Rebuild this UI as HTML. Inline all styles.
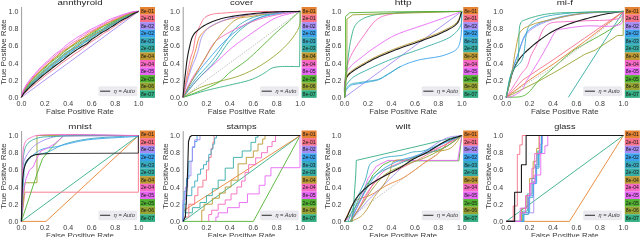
<!DOCTYPE html><html><head><meta charset="utf-8"><style>html,body{margin:0;padding:0;background:#fff;overflow:hidden}svg{display:block;will-change:transform}text{font-family:"Liberation Sans",sans-serif}</style></head><body>
<svg width="640" height="237" viewBox="0 0 640 237">
<rect width="640" height="237" fill="#fff"/>
<text x="80" y="5.2" font-size="8" text-anchor="middle" textLength="45.11" lengthAdjust="spacingAndGlyphs" fill="#262626">annthyroid</text>
<line x1="21.6" y1="7" x2="21.6" y2="97.3" stroke="#9c9c9c" stroke-width="1"/>
<text x="18.3" y="99.9" font-size="6.6" text-anchor="end" textLength="9.8" lengthAdjust="spacingAndGlyphs" fill="#3a3a3a">0.0</text>
<text x="18.3" y="82.72" font-size="6.6" text-anchor="end" textLength="9.8" lengthAdjust="spacingAndGlyphs" fill="#3a3a3a">0.2</text>
<text x="18.3" y="65.54" font-size="6.6" text-anchor="end" textLength="9.8" lengthAdjust="spacingAndGlyphs" fill="#3a3a3a">0.4</text>
<text x="18.3" y="48.36" font-size="6.6" text-anchor="end" textLength="9.8" lengthAdjust="spacingAndGlyphs" fill="#3a3a3a">0.6</text>
<text x="18.3" y="31.18" font-size="6.6" text-anchor="end" textLength="9.8" lengthAdjust="spacingAndGlyphs" fill="#3a3a3a">0.8</text>
<text x="18.3" y="14" font-size="6.6" text-anchor="end" textLength="9.8" lengthAdjust="spacingAndGlyphs" fill="#3a3a3a">1.0</text>
<text x="21.4" y="105.7" font-size="6.6" text-anchor="middle" textLength="9.8" lengthAdjust="spacingAndGlyphs" fill="#3a3a3a">0.0</text>
<text x="44.84" y="105.7" font-size="6.6" text-anchor="middle" textLength="9.8" lengthAdjust="spacingAndGlyphs" fill="#3a3a3a">0.2</text>
<text x="68.28" y="105.7" font-size="6.6" text-anchor="middle" textLength="9.8" lengthAdjust="spacingAndGlyphs" fill="#3a3a3a">0.4</text>
<text x="91.72" y="105.7" font-size="6.6" text-anchor="middle" textLength="9.8" lengthAdjust="spacingAndGlyphs" fill="#3a3a3a">0.6</text>
<text x="115.16" y="105.7" font-size="6.6" text-anchor="middle" textLength="9.8" lengthAdjust="spacingAndGlyphs" fill="#3a3a3a">0.8</text>
<text x="138.6" y="105.7" font-size="6.6" text-anchor="middle" textLength="9.8" lengthAdjust="spacingAndGlyphs" fill="#3a3a3a">1.0</text>
<text x="80" y="113.9" font-size="7.4" text-anchor="middle" textLength="67.8" lengthAdjust="spacingAndGlyphs" fill="#3a3a3a">False Positive Rate</text>
<text transform="translate(6.4,52) rotate(-90)" font-size="7.4" text-anchor="middle" textLength="65.6" lengthAdjust="spacingAndGlyphs" fill="#3a3a3a">True Positive Rate</text>
<g fill="none" stroke-linejoin="round" stroke-linecap="butt">
<path d="M21.4,97.3 L138.6,11.4" stroke="#a48cf4" stroke-width="0.9"/>
<path d="M21.4,97.3 L23.74,94.17 L26.09,91.89 L28.43,89.75 L30.78,87.73 L33.12,85.88 L35.46,83.95 L37.81,81.89 L40.15,80.07 L42.5,78.19 L44.84,76.14 L47.18,74.28 L49.53,72.5 L51.87,70.75 L54.22,69.12 L56.56,67.45 L58.9,65.47 L61.25,63.51 L63.59,61.85 L65.94,60.11 L68.28,58.59 L70.62,57.1 L72.97,55.17 L75.31,53.46 L77.66,52.17 L80,50.49 L82.34,48.44 L84.69,46.67 L87.03,44.93 L89.38,43.14 L91.72,41.5 L94.06,39.99 L96.41,38.53 L98.75,36.95 L101.1,35.29 L103.44,33.53 L105.78,32.08 L108.13,30.96 L110.47,29.54 L112.82,27.72 L115.16,25.92 L117.5,24.42 L119.85,22.98 L122.19,21.5 L124.54,19.99 L126.88,18.5 L129.22,17 L131.57,15.5 L133.91,14.04 L136.26,12.65 L138.6,11.4" stroke="#f77189" stroke-width="0.9"/>
<path d="M21.4,97.3 L23.74,92.76 L26.09,89.95 L28.43,87.47 L30.78,85.14 L33.12,82.79 L35.46,80.45 L37.81,78.28 L40.15,76.34 L42.5,74.49 L44.84,72.57 L47.18,70.72 L49.53,68.98 L51.87,67.16 L54.22,65.09 L56.56,62.83 L58.9,60.86 L61.25,59.12 L63.59,57.58 L65.94,56.24 L68.28,54.55 L70.62,52.54 L72.97,50.61 L75.31,48.81 L77.66,47.4 L80,46.18 L82.34,44.44 L84.69,42.66 L87.03,41.31 L89.38,39.95 L91.72,38.44 L94.06,36.76 L96.41,34.81 L98.75,33.19 L101.1,32.02 L103.44,30.62 L105.78,28.98 L108.13,27.48 L110.47,26.01 L112.82,24.65 L115.16,23.47 L117.5,22.18 L119.85,20.81 L122.19,19.55 L124.54,18.32 L126.88,16.96 L129.22,15.67 L131.57,14.54 L133.91,13.37 L136.26,12.24 L138.6,11.4" stroke="#34af84" stroke-width="0.9"/>
<path d="M21.4,97.3 L23.74,92.43 L26.09,89.45 L28.43,86.8 L30.78,84.35 L33.12,82.1 L35.46,80.04 L37.81,77.83 L40.15,75.54 L42.5,73.46 L44.84,71.58 L47.18,69.85 L49.53,68.02 L51.87,66.09 L54.22,64.12 L56.56,62.36 L58.9,60.85 L61.25,59.12 L63.59,57.04 L65.94,54.88 L68.28,53.26 L70.62,51.84 L72.97,50.16 L75.31,48.58 L77.66,47.02 L80,45.65 L82.34,44 L84.69,42.05 L87.03,40.65 L89.38,39.06 L91.72,37 L94.06,35.51 L96.41,34.23 L98.75,32.64 L101.1,31.2 L103.44,29.95 L105.78,28.55 L108.13,26.93 L110.47,25.41 L112.82,24.01 L115.16,22.79 L117.5,21.73 L119.85,20.54 L122.19,19.29 L124.54,18.05 L126.88,16.78 L129.22,15.48 L131.57,14.29 L133.91,13.19 L136.26,12.15 L138.6,11.4" stroke="#3ba3ec" stroke-width="0.9"/>
<path d="M21.4,97.3 L23.74,92.14 L26.09,89.11 L28.43,86.5 L30.78,84.04 L33.12,81.6 L35.46,79.26 L37.81,77.07 L40.15,74.97 L42.5,72.92 L44.84,70.91 L47.18,68.82 L49.53,66.85 L51.87,65.1 L54.22,63.21 L56.56,61.39 L58.9,59.74 L61.25,57.79 L63.59,55.92 L65.94,54.29 L68.28,52.42 L70.62,50.55 L72.97,49 L75.31,47.77 L77.66,46.25 L80,44.19 L82.34,42.46 L84.69,41.3 L87.03,40.12 L89.38,38.47 L91.72,36.72 L94.06,35.07 L96.41,33.38 L98.75,32.08 L101.1,30.87 L103.44,29.37 L105.78,27.84 L108.13,26.23 L110.47,24.85 L112.82,23.7 L115.16,22.41 L117.5,21.05 L119.85,19.71 L122.19,18.58 L124.54,17.57 L126.88,16.38 L129.22,15.16 L131.57,14.06 L133.91,13.03 L136.26,12.06 L138.6,11.4" stroke="#38aabf" stroke-width="0.9"/>
<path d="M21.4,97.3 L23.74,91.9 L26.09,88.74 L28.43,86 L30.78,83.44 L33.12,81.06 L35.46,78.82 L37.81,76.6 L40.15,74.49 L42.5,72.43 L44.84,70.48 L47.18,68.51 L49.53,66.29 L51.87,64.25 L54.22,62.64 L56.56,60.83 L58.9,58.63 L61.25,56.6 L63.59,55.04 L65.94,53.35 L68.28,51.62 L70.62,50.1 L72.97,48.39 L75.31,46.93 L77.66,45.65 L80,44.06 L82.34,42.15 L84.69,40.37 L87.03,38.97 L89.38,37.37 L91.72,35.78 L94.06,34.41 L96.41,33.09 L98.75,31.92 L101.1,30.6 L103.44,28.94 L105.78,27.31 L108.13,25.99 L110.47,24.71 L112.82,23.32 L115.16,22.07 L117.5,20.79 L119.85,19.41 L122.19,18.24 L124.54,17.17 L126.88,16 L129.22,14.84 L131.57,13.77 L133.91,12.82 L136.26,11.96 L138.6,11.4" stroke="#bb9832" stroke-width="0.9"/>
<path d="M21.4,97.3 L23.74,91.59 L26.09,88.33 L28.43,85.5 L30.78,82.94 L33.12,80.44 L35.46,77.97 L37.81,75.77 L40.15,73.6 L42.5,71.47 L44.84,69.44 L47.18,67.48 L49.53,65.5 L51.87,63.51 L54.22,61.82 L56.56,60.18 L58.9,58.39 L61.25,56.47 L63.59,54.36 L65.94,52.4 L68.28,50.99 L70.62,49.65 L72.97,47.7 L75.31,45.81 L77.66,44.41 L80,42.84 L82.34,41.14 L84.69,39.59 L87.03,38.07 L89.38,36.5 L91.72,34.98 L94.06,33.39 L96.41,31.85 L98.75,30.72 L101.1,29.75 L103.44,28.27 L105.78,26.54 L108.13,25.32 L110.47,24.09 L112.82,22.6 L115.16,21.32 L117.5,20.1 L119.85,18.94 L122.19,17.95 L124.54,16.8 L126.88,15.66 L129.22,14.64 L131.57,13.65 L133.91,12.72 L136.26,11.87 L138.6,11.4" stroke="#36ada4" stroke-width="0.9"/>
<path d="M21.4,97.3 L23.74,91.04 L26.09,87.55 L28.43,84.53 L30.78,81.83 L33.12,79.21 L35.46,76.7 L37.81,74.49 L40.15,72.21 L42.5,70.03 L44.84,68.09 L47.18,65.94 L49.53,63.75 L51.87,61.76 L54.22,59.92 L56.56,58.28 L58.9,56.62 L61.25,54.76 L63.59,52.62 L65.94,50.56 L68.28,48.86 L70.62,47.31 L72.97,45.74 L75.31,44.24 L77.66,42.92 L80,41.31 L82.34,39.37 L84.69,37.78 L87.03,36.63 L89.38,35.45 L91.72,34.01 L94.06,32.53 L96.41,30.91 L98.75,29.36 L101.1,28.01 L103.44,26.45 L105.78,25.21 L108.13,24.33 L110.47,23.09 L112.82,21.84 L115.16,20.74 L117.5,19.39 L119.85,18.16 L122.19,17.18 L124.54,16.16 L126.88,15.14 L129.22,14.09 L131.57,13.17 L133.91,12.43 L136.26,11.74 L138.6,11.4" stroke="#50b131" stroke-width="0.9"/>
<path d="M21.4,97.3 L23.74,90.74 L26.09,87.14 L28.43,84.05 L30.78,81.17 L33.12,78.47 L35.46,76.08 L37.81,73.83 L40.15,71.55 L42.5,69.37 L44.84,67.16 L47.18,64.75 L49.53,62.75 L51.87,61.05 L54.22,58.99 L56.56,57.07 L58.9,55.48 L61.25,53.68 L63.59,51.75 L65.94,49.94 L68.28,48.15 L70.62,46.6 L72.97,45.12 L75.31,43.13 L77.66,41.14 L80,39.64 L82.34,38.6 L84.69,37.68 L87.03,36.39 L89.38,34.54 L91.72,32.7 L94.06,31.45 L96.41,30.06 L98.75,28.53 L101.1,27.34 L103.44,26.11 L105.78,24.95 L108.13,23.79 L110.47,22.32 L112.82,21.05 L115.16,20.14 L117.5,19.08 L119.85,17.96 L122.19,16.9 L124.54,15.75 L126.88,14.67 L129.22,13.79 L131.57,12.96 L133.91,12.22 L136.26,11.62 L138.6,11.4" stroke="#97a431" stroke-width="0.9"/>
<path d="M21.4,97.3 L23.74,90.45 L26.09,86.7 L28.43,83.54 L30.78,80.68 L33.12,78.03 L35.46,75.55 L37.81,73.09 L40.15,70.64 L42.5,68.45 L44.84,66.51 L47.18,64.54 L49.53,62.39 L51.87,60.1 L54.22,58.2 L56.56,56.45 L58.9,54.2 L61.25,52.17 L63.59,50.61 L65.94,49.16 L68.28,47.85 L70.62,46.27 L72.97,44.48 L75.31,42.98 L77.66,41.46 L80,39.9 L82.34,38.35 L84.69,36.61 L87.03,34.84 L89.38,33.23 L91.72,31.87 L94.06,30.57 L96.41,29.21 L98.75,27.89 L101.1,26.73 L103.44,25.41 L105.78,23.79 L108.13,22.44 L110.47,21.4 L112.82,20.47 L115.16,19.59 L117.5,18.6 L119.85,17.56 L122.19,16.48 L124.54,15.37 L126.88,14.41 L129.22,13.54 L131.57,12.75 L133.91,12.03 L136.26,11.51 L138.6,11.4" stroke="#e68332" stroke-width="0.9"/>
<path d="M21.4,97.3 L23.74,89.88 L26.09,85.94 L28.43,82.69 L30.78,79.75 L33.12,76.94 L35.46,74.24 L37.81,71.61 L40.15,69.18 L42.5,66.94 L44.84,64.73 L47.18,62.67 L49.53,60.76 L51.87,58.8 L54.22,56.7 L56.56,54.68 L58.9,52.87 L61.25,51.07 L63.59,49.32 L65.94,47.53 L68.28,45.83 L70.62,44.08 L72.97,42.4 L75.31,41.25 L77.66,39.64 L80,37.58 L82.34,36.23 L84.69,34.89 L87.03,32.94 L89.38,31.54 L91.72,30.69 L94.06,29.52 L96.41,28.22 L98.75,26.8 L101.1,25.42 L103.44,24.22 L105.78,23.03 L108.13,22.05 L110.47,20.84 L112.82,19.49 L115.16,18.48 L117.5,17.5 L119.85,16.47 L122.19,15.57 L124.54,14.77 L126.88,13.94 L129.22,13.03 L131.57,12.26 L133.91,11.71 L136.26,11.4 L138.6,11.4" stroke="#f668c2" stroke-width="0.9"/>
<path d="M21.4,97.3 L23.74,89.31 L26.09,85.11 L28.43,81.62 L30.78,78.58 L33.12,75.78 L35.46,73.1 L37.81,70.46 L40.15,67.93 L42.5,65.65 L44.84,63.42 L47.18,61.29 L49.53,59.19 L51.87,56.94 L54.22,54.73 L56.56,52.98 L58.9,51.47 L61.25,49.71 L63.59,47.68 L65.94,45.48 L68.28,43.55 L70.62,41.9 L72.97,40.28 L75.31,38.66 L77.66,37.04 L80,35.77 L82.34,34.53 L84.69,32.98 L87.03,31.52 L89.38,30.15 L91.72,28.9 L94.06,27.78 L96.41,26.57 L98.75,25.34 L101.1,24.25 L103.44,23 L105.78,21.5 L108.13,20.16 L110.47,19.11 L112.82,18.24 L115.16,17.35 L117.5,16.49 L119.85,15.68 L122.19,14.78 L124.54,14 L126.88,13.34 L129.22,12.64 L131.57,12 L133.91,11.5 L136.26,11.41 L138.6,11.4" stroke="#e866f4" stroke-width="0.9"/>
<path d="M21.4,97.3 L23.74,93.33 L26.09,90.76 L28.43,88.38 L30.78,86.1 L33.12,84 L35.46,81.92 L37.81,79.79 L40.15,77.72 L42.5,75.71 L44.84,73.91 L47.18,72.13 L49.53,70.29 L51.87,68.43 L54.22,66.46 L56.56,64.78 L58.9,63.07 L61.25,61.29 L63.59,59.64 L65.94,57.65 L68.28,55.78 L70.62,54.17 L72.97,52.36 L75.31,50.68 L77.66,49.12 L80,47.66 L82.34,46.27 L84.69,44.9 L87.03,43.48 L89.38,41.5 L91.72,39.38 L94.06,37.89 L96.41,36.4 L98.75,34.67 L101.1,33.07 L103.44,31.63 L105.78,30.47 L108.13,29.03 L110.47,27.4 L112.82,25.99 L115.16,24.46 L117.5,22.88 L119.85,21.37 L122.19,20 L124.54,18.85 L126.88,17.69 L129.22,16.35 L131.57,14.9 L133.91,13.6 L136.26,12.43 L138.6,11.4" stroke="#1a1a1a" stroke-width="1.1"/>
</g>
<rect x="140" y="7" width="15" height="7.62" fill="#e68332"/>
<text x="147.5" y="12.58" font-size="5.2" text-anchor="middle" textLength="13" lengthAdjust="spacingAndGlyphs" fill="#1a1a1a">8e-01</text>
<rect x="140" y="14.57" width="15" height="7.62" fill="#f77189"/>
<text x="147.5" y="20.15" font-size="5.2" text-anchor="middle" textLength="13" lengthAdjust="spacingAndGlyphs" fill="#1a1a1a">2e-01</text>
<rect x="140" y="22.13" width="15" height="7.62" fill="#a48cf4"/>
<text x="147.5" y="27.72" font-size="5.2" text-anchor="middle" textLength="13" lengthAdjust="spacingAndGlyphs" fill="#1a1a1a">8e-02</text>
<rect x="140" y="29.7" width="15" height="7.62" fill="#3ba3ec"/>
<text x="147.5" y="35.28" font-size="5.2" text-anchor="middle" textLength="13" lengthAdjust="spacingAndGlyphs" fill="#1a1a1a">2e-02</text>
<rect x="140" y="37.27" width="15" height="7.62" fill="#38aabf"/>
<text x="147.5" y="42.85" font-size="5.2" text-anchor="middle" textLength="13" lengthAdjust="spacingAndGlyphs" fill="#1a1a1a">8e-03</text>
<rect x="140" y="44.83" width="15" height="7.62" fill="#36ada4"/>
<text x="147.5" y="50.42" font-size="5.2" text-anchor="middle" textLength="13" lengthAdjust="spacingAndGlyphs" fill="#1a1a1a">2e-03</text>
<rect x="140" y="52.4" width="15" height="7.62" fill="#bb9832"/>
<text x="147.5" y="57.98" font-size="5.2" text-anchor="middle" textLength="13" lengthAdjust="spacingAndGlyphs" fill="#1a1a1a">8e-04</text>
<rect x="140" y="59.97" width="15" height="7.62" fill="#f668c2"/>
<text x="147.5" y="65.55" font-size="5.2" text-anchor="middle" textLength="13" lengthAdjust="spacingAndGlyphs" fill="#1a1a1a">2e-04</text>
<rect x="140" y="67.53" width="15" height="7.62" fill="#e866f4"/>
<text x="147.5" y="73.12" font-size="5.2" text-anchor="middle" textLength="13" lengthAdjust="spacingAndGlyphs" fill="#1a1a1a">8e-05</text>
<rect x="140" y="75.1" width="15" height="7.62" fill="#50b131"/>
<text x="147.5" y="80.68" font-size="5.2" text-anchor="middle" textLength="13" lengthAdjust="spacingAndGlyphs" fill="#1a1a1a">2e-05</text>
<rect x="140" y="82.67" width="15" height="7.62" fill="#97a431"/>
<text x="147.5" y="88.25" font-size="5.2" text-anchor="middle" textLength="13" lengthAdjust="spacingAndGlyphs" fill="#1a1a1a">8e-06</text>
<rect x="140" y="90.23" width="15" height="7.62" fill="#34af84"/>
<text x="147.5" y="95.82" font-size="5.2" text-anchor="middle" textLength="13" lengthAdjust="spacingAndGlyphs" fill="#1a1a1a">8e-07</text>
<rect x="98.9" y="86.8" width="37.8" height="8.9" rx="0.6" fill="#ebebf0" stroke="#e0e0e6" stroke-width="0.5"/>
<line x1="100.1" y1="91.2" x2="110.2" y2="91.2" stroke="#3a3a3a" stroke-width="1.1"/>
<text x="113.8" y="93.2" font-size="5.6" font-style="italic" textLength="21" lengthAdjust="spacingAndGlyphs" fill="#333">η = Auto</text>
<text x="241.6" y="5.2" font-size="8" text-anchor="middle" textLength="23.07" lengthAdjust="spacingAndGlyphs" fill="#262626">cover</text>
<line x1="183.2" y1="7" x2="183.2" y2="97.3" stroke="#9c9c9c" stroke-width="1"/>
<text x="179.9" y="99.9" font-size="6.6" text-anchor="end" textLength="9.8" lengthAdjust="spacingAndGlyphs" fill="#3a3a3a">0.0</text>
<text x="179.9" y="82.72" font-size="6.6" text-anchor="end" textLength="9.8" lengthAdjust="spacingAndGlyphs" fill="#3a3a3a">0.2</text>
<text x="179.9" y="65.54" font-size="6.6" text-anchor="end" textLength="9.8" lengthAdjust="spacingAndGlyphs" fill="#3a3a3a">0.4</text>
<text x="179.9" y="48.36" font-size="6.6" text-anchor="end" textLength="9.8" lengthAdjust="spacingAndGlyphs" fill="#3a3a3a">0.6</text>
<text x="179.9" y="31.18" font-size="6.6" text-anchor="end" textLength="9.8" lengthAdjust="spacingAndGlyphs" fill="#3a3a3a">0.8</text>
<text x="179.9" y="14" font-size="6.6" text-anchor="end" textLength="9.8" lengthAdjust="spacingAndGlyphs" fill="#3a3a3a">1.0</text>
<text x="183" y="105.7" font-size="6.6" text-anchor="middle" textLength="9.8" lengthAdjust="spacingAndGlyphs" fill="#3a3a3a">0.0</text>
<text x="206.44" y="105.7" font-size="6.6" text-anchor="middle" textLength="9.8" lengthAdjust="spacingAndGlyphs" fill="#3a3a3a">0.2</text>
<text x="229.88" y="105.7" font-size="6.6" text-anchor="middle" textLength="9.8" lengthAdjust="spacingAndGlyphs" fill="#3a3a3a">0.4</text>
<text x="253.32" y="105.7" font-size="6.6" text-anchor="middle" textLength="9.8" lengthAdjust="spacingAndGlyphs" fill="#3a3a3a">0.6</text>
<text x="276.76" y="105.7" font-size="6.6" text-anchor="middle" textLength="9.8" lengthAdjust="spacingAndGlyphs" fill="#3a3a3a">0.8</text>
<text x="300.2" y="105.7" font-size="6.6" text-anchor="middle" textLength="9.8" lengthAdjust="spacingAndGlyphs" fill="#3a3a3a">1.0</text>
<text x="241.6" y="113.9" font-size="7.4" text-anchor="middle" textLength="67.8" lengthAdjust="spacingAndGlyphs" fill="#3a3a3a">False Positive Rate</text>
<text transform="translate(168,52) rotate(-90)" font-size="7.4" text-anchor="middle" textLength="65.6" lengthAdjust="spacingAndGlyphs" fill="#3a3a3a">True Positive Rate</text>
<g fill="none" stroke-linejoin="round" stroke-linecap="butt">
<path d="M183,97.3 L300.2,11.4" stroke="#b0b0b0" stroke-width="0.8" stroke-dasharray="1.5,1.2"/>
<path d="M183,97.3 L184.47,96.87 L185.93,96.44 L187.39,96.01 L188.86,95.58 L190.32,95.15 L191.79,94.72 L193.26,94.29 L194.72,93.86 L196.18,93.43 L197.63,92.99 L199.09,92.55 L200.54,92.11 L202,91.68 L203.46,91.25 L204.94,90.83 L206.44,90.43 L208.03,90.02 L209.64,89.63 L211.28,89.24 L212.92,88.87 L214.56,88.5 L216.18,88.13 L217.78,87.78 L219.33,87.42 L220.68,87.11 L221.96,86.83 L223.21,86.55 L224.45,86.27 L225.71,85.99 L227.02,85.69 L228.4,85.37 L229.88,85.02 L232.22,84.47 L234.8,83.89 L237.56,83.28 L240.4,82.63 L243.24,81.94 L246,81.23 L248.61,80.47 L250.98,79.69 L252.64,79.06 L254.23,78.41 L255.74,77.73 L257.19,77.04 L258.6,76.33 L259.98,75.6 L261.34,74.86 L262.7,74.11 L263.94,73.36 L265.14,72.55 L266.31,71.71 L267.47,70.86 L268.61,70.04 L269.75,69.29 L270.9,68.63 L272.07,68.09 L273.07,67.74 L274.03,67.46 L274.99,67.24 L275.95,67.07 L276.93,66.94 L277.97,66.84 L279.08,66.74 L280.28,66.63 L282.3,66.51 L284.53,66.44 L286.92,66.44 L289.43,66.47 L292,66.52 L294.59,66.57 L297.14,66.62 L299.61,66.63" stroke="#34af84" stroke-width="0.9"/>
<path d="M299.61,66.63 L300.2,11.4" stroke="#34af84" stroke-width="0.9"/>
<path d="M183,97.3 L185.04,96.09 L187.06,94.86 L189.07,93.6 L191.08,92.36 L193.11,91.14 L195.17,89.97 L197.26,88.86 L199.41,87.85 L201.65,86.92 L203.92,86.08 L206.24,85.31 L208.58,84.6 L210.95,83.91 L213.34,83.23 L215.74,82.55 L218.16,81.84 L220.74,81.09 L223.37,80.39 L226.03,79.71 L228.7,79.02 L231.38,78.31 L234.04,77.56 L236.67,76.74 L239.26,75.82 L241.81,74.84 L244.32,73.82 L246.82,72.75 L249.3,71.62 L251.76,70.43 L254.23,69.16 L256.7,67.81 L259.18,66.38 L262.02,64.63 L264.93,62.75 L267.86,60.75 L270.79,58.67 L273.65,56.53 L276.41,54.36 L279.02,52.19 L281.45,50.05 L283.36,48.26 L285.2,46.43 L286.97,44.58 L288.65,42.72 L290.24,40.86 L291.72,39.02 L293.09,37.22 L294.34,35.45 L295.22,34.14 L296.05,32.87 L296.81,31.62 L297.51,30.38 L298.15,29.13 L298.71,27.86 L299.2,26.53 L299.61,25.14 L299.94,23.55 L300.14,21.89 L300.23,20.18 L300.24,18.44 L300.22,16.67 L300.18,14.9 L300.16,13.14 L300.2,11.4" stroke="#97a431" stroke-width="0.9"/>
<path d="M183,97.3 L184.44,96.78 L185.84,96.29 L187.22,95.81 L188.61,95.32 L190.03,94.81 L191.51,94.27 L193.06,93.67 L194.72,93.01 L197.46,91.9 L200.53,90.67 L203.82,89.34 L207.21,87.92 L210.57,86.44 L213.79,84.92 L216.75,83.38 L219.33,81.84 L220.92,80.71 L222.33,79.57 L223.61,78.39 L224.81,77.21 L225.98,76.01 L227.18,74.8 L228.46,73.6 L229.88,72.39 L231.76,70.94 L233.77,69.49 L235.88,68.02 L238.03,66.55 L240.2,65.07 L242.32,63.59 L244.37,62.1 L246.29,60.62 L247.86,59.33 L249.34,58.06 L250.76,56.8 L252.15,55.54 L253.54,54.25 L254.96,52.91 L256.44,51.52 L258.01,50.06 L260.18,48 L262.5,45.77 L264.91,43.42 L267.38,41.02 L269.84,38.61 L272.26,36.27 L274.58,34.05 L276.76,32.02 L278.36,30.57 L279.91,29.18 L281.43,27.86 L282.91,26.58 L284.36,25.34 L285.76,24.12 L287.14,22.91 L288.48,21.71 L289.6,20.67 L290.72,19.61 L291.81,18.55 L292.88,17.51 L293.91,16.51 L294.89,15.58 L295.82,14.73 L296.68,13.98 L297.18,13.57 L297.65,13.21 L298.09,12.89 L298.52,12.58 L298.93,12.29 L299.35,12 L299.77,11.71 L300.2,11.4" stroke="#50b131" stroke-width="0.9"/>
<path d="M183,97.3 L184.73,95.15 L186.42,93.01 L188.09,90.86 L189.77,88.72 L191.49,86.57 L193.26,84.42 L195.11,82.27 L197.06,80.12 L199.47,77.63 L202.06,75.09 L204.76,72.53 L207.54,69.98 L210.32,67.46 L213.05,65 L215.69,62.63 L218.16,60.36 L220.04,58.61 L221.84,56.9 L223.58,55.25 L225.29,53.64 L226.98,52.06 L228.68,50.52 L230.43,48.99 L232.22,47.48 L234.04,46.02 L235.83,44.62 L237.63,43.26 L239.46,41.93 L241.34,40.58 L243.28,39.22 L245.31,37.8 L247.46,36.31 L250.56,34.14 L253.95,31.74 L257.54,29.21 L261.23,26.66 L264.92,24.19 L268.51,21.89 L271.9,19.89 L275,18.27 L276.87,17.44 L278.64,16.74 L280.36,16.16 L282.02,15.65 L283.64,15.21 L285.25,14.8 L286.86,14.4 L288.48,13.98 L289.98,13.59 L291.46,13.24 L292.92,12.91 L294.38,12.61 L295.83,12.31 L297.29,12.01 L298.74,11.71 L300.2,11.4" stroke="#e866f4" stroke-width="0.9"/>
<path d="M183,97.3 L184.74,95.16 L186.45,93.02 L188.15,90.88 L189.86,88.75 L191.59,86.61 L193.36,84.46 L195.18,82.3 L197.06,80.12 L199.28,77.7 L201.61,75.26 L204.03,72.82 L206.48,70.37 L208.93,67.89 L211.33,65.41 L213.64,62.9 L215.82,60.36 L217.72,57.92 L219.49,55.42 L221.19,52.89 L222.84,50.34 L224.5,47.82 L226.19,45.33 L227.97,42.92 L229.88,40.61 L231.89,38.36 L233.98,36.12 L236.12,33.93 L238.32,31.79 L240.56,29.74 L242.84,27.78 L245.14,25.96 L247.46,24.28 L249.57,22.9 L251.72,21.61 L253.9,20.41 L256.1,19.31 L258.32,18.29 L260.55,17.35 L262.79,16.48 L265.04,15.69 L267.2,15.02 L269.38,14.45 L271.57,13.95 L273.77,13.52 L275.98,13.15 L278.2,12.83 L280.41,12.53 L282.62,12.26 L284.81,12.03 L287,11.87 L289.2,11.75 L291.4,11.67 L293.6,11.61 L295.8,11.56 L298,11.49 L300.2,11.4" stroke="#36ada4" stroke-width="0.9"/>
<path d="M183,97.3 L184.44,95.15 L185.84,93.01 L187.24,90.87 L188.63,88.73 L190.06,86.59 L191.53,84.44 L193.08,82.28 L194.72,80.12 L196.71,77.68 L198.84,75.25 L201.08,72.82 L203.37,70.38 L205.67,67.92 L207.96,65.44 L210.18,62.92 L212.3,60.36 L214.34,57.72 L216.35,54.97 L218.33,52.16 L220.27,49.33 L222.17,46.55 L224.01,43.85 L225.81,41.28 L227.54,38.89 L228.77,37.18 L229.9,35.54 L230.97,33.96 L232.03,32.43 L233.11,30.96 L234.26,29.55 L235.51,28.18 L236.91,26.86 L238.63,25.45 L240.47,24.08 L242.42,22.78 L244.46,21.55 L246.58,20.39 L248.77,19.31 L251.02,18.31 L253.32,17.41 L255.99,16.54 L258.8,15.81 L261.71,15.2 L264.7,14.69 L267.72,14.25 L270.76,13.85 L273.79,13.49 L276.76,13.12 L279.68,12.78 L282.61,12.51 L285.54,12.29 L288.47,12.1 L291.4,11.93 L294.34,11.77 L297.27,11.6 L300.2,11.4" stroke="#38aabf" stroke-width="0.9"/>
<path d="M183,97.3 L184.15,95.15 L185.25,93.01 L186.35,90.87 L187.45,88.73 L188.58,86.58 L189.76,84.44 L191.02,82.28 L192.38,80.12 L194.02,77.68 L195.75,75.23 L197.56,72.79 L199.44,70.34 L201.4,67.87 L203.41,65.39 L205.49,62.89 L207.61,60.36 L210.13,57.38 L212.75,54.3 L215.46,51.15 L218.24,48.01 L221.09,44.9 L223.99,41.88 L226.92,39 L229.88,36.31 L232.67,33.92 L235.51,31.58 L238.39,29.31 L241.31,27.14 L244.26,25.1 L247.25,23.21 L250.27,21.5 L253.32,19.99 L256.16,18.8 L259.05,17.8 L261.97,16.95 L264.91,16.23 L267.87,15.6 L270.84,15.04 L273.8,14.51 L276.76,13.98 L279.68,13.5 L282.6,13.1 L285.53,12.77 L288.46,12.48 L291.4,12.22 L294.33,11.97 L297.27,11.7 L300.2,11.4" stroke="#3ba3ec" stroke-width="0.9"/>
<path d="M183,97.3 L184,95.16 L184.98,93.02 L185.94,90.88 L186.9,88.74 L187.89,86.6 L188.93,84.45 L190.03,82.29 L191.2,80.12 L192.64,77.68 L194.19,75.21 L195.82,72.73 L197.51,70.25 L199.21,67.76 L200.9,65.28 L202.54,62.81 L204.1,60.36 L205.45,58.03 L206.7,55.64 L207.91,53.24 L209.1,50.86 L210.33,48.53 L211.63,46.31 L213.06,44.23 L214.64,42.32 L216.27,40.72 L217.97,39.28 L219.76,37.95 L221.63,36.72 L223.58,35.54 L225.6,34.38 L227.7,33.22 L229.88,32.02 L232.75,30.47 L235.83,28.89 L239.07,27.33 L242.41,25.79 L245.8,24.3 L249.17,22.9 L252.48,21.59 L255.66,20.42 L258.36,19.5 L261.01,18.67 L263.62,17.91 L266.22,17.22 L268.81,16.58 L271.42,15.97 L274.07,15.4 L276.76,14.84 L279.62,14.29 L282.52,13.81 L285.44,13.37 L288.39,12.97 L291.34,12.58 L294.31,12.2 L297.26,11.81 L300.2,11.4" stroke="#f668c2" stroke-width="0.9"/>
<path d="M183,97.3 L184.15,95.18 L185.27,93.11 L186.37,91.06 L187.48,89 L188.62,86.9 L189.8,84.74 L191.05,82.49 L192.38,80.12 L194.31,76.7 L196.4,72.98 L198.61,69.08 L200.9,65.08 L203.22,61.08 L205.54,57.18 L207.79,53.47 L209.96,50.05 L211.6,47.52 L213.19,45.07 L214.76,42.71 L216.32,40.44 L217.89,38.23 L219.48,36.1 L221.13,34.03 L222.85,32.02 L224.49,30.16 L226.17,28.29 L227.87,26.45 L229.61,24.68 L231.38,23.02 L233.18,21.52 L235.03,20.21 L236.91,19.13 L238.57,18.43 L240.25,17.93 L241.95,17.59 L243.68,17.36 L245.44,17.19 L247.25,17.03 L249.09,16.84 L250.98,16.55 L253.27,16.13 L255.62,15.68 L258.02,15.21 L260.47,14.75 L262.98,14.29 L265.56,13.86 L268.2,13.46 L270.9,13.12 L274.29,12.78 L277.82,12.5 L281.46,12.28 L285.19,12.09 L288.96,11.93 L292.74,11.77 L296.5,11.6 L300.2,11.4" stroke="#bb9832" stroke-width="0.9"/>
<path d="M183,97.3 L183.36,95.7 L183.71,94.1 L184.07,92.52 L184.42,90.93 L184.78,89.33 L185.14,87.71 L185.53,86.08 L185.93,84.41 L186.4,82.53 L186.9,80.58 L187.42,78.6 L187.95,76.6 L188.48,74.61 L189.01,72.66 L189.53,70.76 L190.03,68.95 L190.44,67.48 L190.85,66.05 L191.25,64.64 L191.65,63.27 L192.04,61.92 L192.43,60.6 L192.82,59.31 L193.2,58.04 L193.51,57 L193.82,56 L194.12,55.04 L194.41,54.09 L194.71,53.14 L195.02,52.16 L195.33,51.14 L195.66,50.05 L196.07,48.56 L196.46,46.93 L196.85,45.23 L197.26,43.5 L197.7,41.77 L198.19,40.12 L198.76,38.56 L199.41,37.17 L200.01,36.14 L200.65,35.17 L201.33,34.27 L202.05,33.41 L202.81,32.59 L203.6,31.81 L204.42,31.05 L205.27,30.3 L206.18,29.55 L207.15,28.85 L208.15,28.18 L209.18,27.54 L210.24,26.92 L211.31,26.32 L212.39,25.73 L213.47,25.14 L214.57,24.55 L215.66,23.97 L216.76,23.41 L217.87,22.87 L219.02,22.34 L220.22,21.83 L221.49,21.33 L222.85,20.85 L224.83,20.22 L226.95,19.63 L229.19,19.07 L231.52,18.54 L233.95,18.03 L236.45,17.53 L239,17.04 L241.6,16.55 L244.94,15.94 L248.45,15.32 L252.09,14.71 L255.82,14.12 L259.61,13.57 L263.41,13.06 L267.18,12.62 L270.9,12.26 L274.56,11.99 L278.21,11.8 L281.88,11.69 L285.54,11.62 L289.21,11.57 L292.87,11.53 L296.54,11.48 L300.2,11.4" stroke="#e68332" stroke-width="0.9"/>
<path d="M183,97.3 L183.43,95.7 L183.86,94.12 L184.28,92.55 L184.7,90.97 L185.13,89.38 L185.57,87.76 L186.03,86.11 L186.52,84.41 L187.11,82.34 L187.75,80.16 L188.4,77.9 L189.08,75.63 L189.76,73.38 L190.45,71.2 L191.13,69.13 L191.79,67.23 L192.28,65.94 L192.79,64.71 L193.29,63.54 L193.8,62.42 L194.29,61.32 L194.77,60.23 L195.23,59.15 L195.66,58.04 L196.02,57.04 L196.36,56.06 L196.68,55.1 L196.99,54.15 L197.3,53.18 L197.6,52.18 L197.91,51.14 L198.24,50.05 L198.64,48.57 L199.02,46.98 L199.39,45.31 L199.77,43.6 L200.18,41.89 L200.63,40.23 L201.15,38.64 L201.75,37.17 L202.34,35.95 L202.95,34.77 L203.6,33.63 L204.29,32.53 L205.03,31.47 L205.82,30.46 L206.68,29.5 L207.61,28.58 L208.69,27.66 L209.83,26.82 L211.03,26.03 L212.3,25.3 L213.65,24.6 L215.07,23.92 L216.58,23.25 L218.16,22.57 L220.54,21.59 L223.06,20.64 L225.73,19.71 L228.56,18.81 L231.55,17.95 L234.72,17.14 L238.06,16.39 L241.6,15.69 L247.63,14.79 L254.35,14.08 L261.59,13.52 L269.21,13.06 L277.04,12.67 L284.92,12.29 L292.69,11.88 L300.2,11.4" stroke="#a48cf4" stroke-width="0.9"/>
<path d="M183,97.3 L183.29,95.7 L183.58,94.11 L183.87,92.52 L184.15,90.93 L184.44,89.33 L184.74,87.72 L185.04,86.08 L185.34,84.41 L185.69,82.53 L186.05,80.58 L186.42,78.6 L186.8,76.6 L187.17,74.61 L187.54,72.66 L187.91,70.77 L188.27,68.95 L188.57,67.48 L188.85,66.05 L189.13,64.64 L189.41,63.26 L189.69,61.92 L189.99,60.6 L190.29,59.31 L190.62,58.04 L190.92,57 L191.24,56.01 L191.57,55.06 L191.91,54.12 L192.24,53.18 L192.57,52.2 L192.89,51.17 L193.2,50.05 L193.56,48.42 L193.88,46.63 L194.18,44.73 L194.47,42.78 L194.77,40.82 L195.1,38.92 L195.47,37.11 L195.89,35.45 L196.26,34.25 L196.65,33.12 L197.05,32.04 L197.47,31 L197.92,29.97 L198.39,28.95 L198.88,27.92 L199.41,26.86 L200,25.65 L200.59,24.37 L201.21,23.07 L201.87,21.77 L202.56,20.53 L203.31,19.36 L204.13,18.31 L205.03,17.41 L205.93,16.73 L206.9,16.15 L207.93,15.65 L209.01,15.23 L210.11,14.86 L211.23,14.54 L212.36,14.25 L213.47,13.98 L214.58,13.74 L215.68,13.58 L216.79,13.46 L217.91,13.38 L219.06,13.33 L220.26,13.27 L221.52,13.21 L222.85,13.12 L224.81,12.96 L226.84,12.78 L228.95,12.61 L231.17,12.43 L233.52,12.26 L236.03,12.1 L238.71,11.95 L241.6,11.83 L247.37,11.66 L253.96,11.56 L261.19,11.5 L268.87,11.47 L276.79,11.46 L284.79,11.45 L292.65,11.44 L300.2,11.4" stroke="#f77189" stroke-width="0.9"/>
<path d="M183,97.3 L183.14,95.7 L183.28,94.11 L183.42,92.52 L183.56,90.93 L183.7,89.33 L183.85,87.72 L184.01,86.08 L184.17,84.41 L184.37,82.53 L184.58,80.58 L184.8,78.6 L185.03,76.6 L185.26,74.61 L185.49,72.66 L185.71,70.77 L185.93,68.95 L186.11,67.49 L186.28,66.05 L186.44,64.65 L186.61,63.27 L186.78,61.92 L186.96,60.6 L187.14,59.31 L187.34,58.04 L187.5,57 L187.67,56.01 L187.83,55.05 L188,54.11 L188.18,53.16 L188.38,52.18 L188.6,51.15 L188.86,50.05 L189.24,48.39 L189.63,46.55 L190.05,44.6 L190.52,42.6 L191.04,40.63 L191.63,38.73 L192.31,36.99 L193.08,35.45 L193.77,34.38 L194.53,33.39 L195.34,32.49 L196.19,31.64 L197.08,30.84 L198,30.07 L198.93,29.33 L199.88,28.58 L200.84,27.84 L201.81,27.14 L202.8,26.47 L203.82,25.83 L204.87,25.21 L205.97,24.61 L207.11,24.01 L208.32,23.43 L209.89,22.7 L211.52,22 L213.22,21.32 L215,20.66 L216.84,20.02 L218.77,19.41 L220.77,18.83 L222.85,18.27 L225.8,17.58 L228.97,16.94 L232.31,16.35 L235.77,15.81 L239.3,15.3 L242.85,14.83 L246.37,14.39 L249.8,13.98 L253.18,13.6 L256.58,13.25 L259.98,12.94 L263.39,12.66 L266.78,12.41 L270.15,12.19 L273.48,12 L276.76,11.83 L279.77,11.7 L282.73,11.62 L285.67,11.56 L288.58,11.52 L291.48,11.49 L294.38,11.47 L297.28,11.44 L300.2,11.4" stroke="#1a1a1a" stroke-width="1.1"/>
</g>
<rect x="301.6" y="7" width="15" height="7.62" fill="#e68332"/>
<text x="309.1" y="12.58" font-size="5.2" text-anchor="middle" textLength="13" lengthAdjust="spacingAndGlyphs" fill="#1a1a1a">8e-01</text>
<rect x="301.6" y="14.57" width="15" height="7.62" fill="#f77189"/>
<text x="309.1" y="20.15" font-size="5.2" text-anchor="middle" textLength="13" lengthAdjust="spacingAndGlyphs" fill="#1a1a1a">2e-01</text>
<rect x="301.6" y="22.13" width="15" height="7.62" fill="#a48cf4"/>
<text x="309.1" y="27.72" font-size="5.2" text-anchor="middle" textLength="13" lengthAdjust="spacingAndGlyphs" fill="#1a1a1a">8e-02</text>
<rect x="301.6" y="29.7" width="15" height="7.62" fill="#3ba3ec"/>
<text x="309.1" y="35.28" font-size="5.2" text-anchor="middle" textLength="13" lengthAdjust="spacingAndGlyphs" fill="#1a1a1a">2e-02</text>
<rect x="301.6" y="37.27" width="15" height="7.62" fill="#38aabf"/>
<text x="309.1" y="42.85" font-size="5.2" text-anchor="middle" textLength="13" lengthAdjust="spacingAndGlyphs" fill="#1a1a1a">8e-03</text>
<rect x="301.6" y="44.83" width="15" height="7.62" fill="#36ada4"/>
<text x="309.1" y="50.42" font-size="5.2" text-anchor="middle" textLength="13" lengthAdjust="spacingAndGlyphs" fill="#1a1a1a">2e-03</text>
<rect x="301.6" y="52.4" width="15" height="7.62" fill="#bb9832"/>
<text x="309.1" y="57.98" font-size="5.2" text-anchor="middle" textLength="13" lengthAdjust="spacingAndGlyphs" fill="#1a1a1a">8e-04</text>
<rect x="301.6" y="59.97" width="15" height="7.62" fill="#f668c2"/>
<text x="309.1" y="65.55" font-size="5.2" text-anchor="middle" textLength="13" lengthAdjust="spacingAndGlyphs" fill="#1a1a1a">2e-04</text>
<rect x="301.6" y="67.53" width="15" height="7.62" fill="#e866f4"/>
<text x="309.1" y="73.12" font-size="5.2" text-anchor="middle" textLength="13" lengthAdjust="spacingAndGlyphs" fill="#1a1a1a">8e-05</text>
<rect x="301.6" y="75.1" width="15" height="7.62" fill="#50b131"/>
<text x="309.1" y="80.68" font-size="5.2" text-anchor="middle" textLength="13" lengthAdjust="spacingAndGlyphs" fill="#1a1a1a">2e-05</text>
<rect x="301.6" y="82.67" width="15" height="7.62" fill="#97a431"/>
<text x="309.1" y="88.25" font-size="5.2" text-anchor="middle" textLength="13" lengthAdjust="spacingAndGlyphs" fill="#1a1a1a">8e-06</text>
<rect x="301.6" y="90.23" width="15" height="7.62" fill="#34af84"/>
<text x="309.1" y="95.82" font-size="5.2" text-anchor="middle" textLength="13" lengthAdjust="spacingAndGlyphs" fill="#1a1a1a">8e-07</text>
<rect x="260.5" y="86.8" width="37.8" height="8.9" rx="0.6" fill="#ebebf0" stroke="#e0e0e6" stroke-width="0.5"/>
<line x1="261.7" y1="91.2" x2="271.8" y2="91.2" stroke="#3a3a3a" stroke-width="1.1"/>
<text x="275.4" y="93.2" font-size="5.6" font-style="italic" textLength="21" lengthAdjust="spacingAndGlyphs" fill="#333">η = Auto</text>
<text x="403.2" y="5.2" font-size="8" text-anchor="middle" textLength="17.04" lengthAdjust="spacingAndGlyphs" fill="#262626">http</text>
<text x="341.5" y="99.9" font-size="6.6" text-anchor="end" textLength="9.8" lengthAdjust="spacingAndGlyphs" fill="#3a3a3a">0.0</text>
<text x="341.5" y="82.72" font-size="6.6" text-anchor="end" textLength="9.8" lengthAdjust="spacingAndGlyphs" fill="#3a3a3a">0.2</text>
<text x="341.5" y="65.54" font-size="6.6" text-anchor="end" textLength="9.8" lengthAdjust="spacingAndGlyphs" fill="#3a3a3a">0.4</text>
<text x="341.5" y="48.36" font-size="6.6" text-anchor="end" textLength="9.8" lengthAdjust="spacingAndGlyphs" fill="#3a3a3a">0.6</text>
<text x="341.5" y="31.18" font-size="6.6" text-anchor="end" textLength="9.8" lengthAdjust="spacingAndGlyphs" fill="#3a3a3a">0.8</text>
<text x="341.5" y="14" font-size="6.6" text-anchor="end" textLength="9.8" lengthAdjust="spacingAndGlyphs" fill="#3a3a3a">1.0</text>
<text x="344.6" y="105.7" font-size="6.6" text-anchor="middle" textLength="9.8" lengthAdjust="spacingAndGlyphs" fill="#3a3a3a">0.0</text>
<text x="368.04" y="105.7" font-size="6.6" text-anchor="middle" textLength="9.8" lengthAdjust="spacingAndGlyphs" fill="#3a3a3a">0.2</text>
<text x="391.48" y="105.7" font-size="6.6" text-anchor="middle" textLength="9.8" lengthAdjust="spacingAndGlyphs" fill="#3a3a3a">0.4</text>
<text x="414.92" y="105.7" font-size="6.6" text-anchor="middle" textLength="9.8" lengthAdjust="spacingAndGlyphs" fill="#3a3a3a">0.6</text>
<text x="438.36" y="105.7" font-size="6.6" text-anchor="middle" textLength="9.8" lengthAdjust="spacingAndGlyphs" fill="#3a3a3a">0.8</text>
<text x="461.8" y="105.7" font-size="6.6" text-anchor="middle" textLength="9.8" lengthAdjust="spacingAndGlyphs" fill="#3a3a3a">1.0</text>
<text x="403.2" y="113.9" font-size="7.4" text-anchor="middle" textLength="67.8" lengthAdjust="spacingAndGlyphs" fill="#3a3a3a">False Positive Rate</text>
<text transform="translate(329.6,52) rotate(-90)" font-size="7.4" text-anchor="middle" textLength="65.6" lengthAdjust="spacingAndGlyphs" fill="#3a3a3a">True Positive Rate</text>
<g fill="none" stroke-linejoin="round" stroke-linecap="butt">
<path d="M344.6,97.3 L461.8,11.4" stroke="#a48cf4" stroke-width="0.9"/>
<path d="M344.6,97.3 L344.73,96.54 L344.82,95.78 L344.91,95.01 L345,94.24 L345.12,93.48 L345.27,92.73 L345.48,92 L345.77,91.29 L346.17,90.51 L346.62,89.72 L347.12,88.93 L347.69,88.17 L348.3,87.44 L348.97,86.76 L349.69,86.15 L350.46,85.62 L351.43,85.13 L352.5,84.76 L353.66,84.48 L354.88,84.27 L356.13,84.1 L357.39,83.94 L358.63,83.77 L359.84,83.56 L361.01,83.33 L362.18,83.11 L363.35,82.91 L364.52,82.7 L365.7,82.5 L366.87,82.29 L368.04,82.07 L369.21,81.84 L370.39,81.61 L371.56,81.4 L372.74,81.19 L373.92,80.97 L375.09,80.72 L376.26,80.44 L377.43,80.1 L378.59,79.69 L379.84,79.16 L381.08,78.56 L382.3,77.9 L383.53,77.18 L384.76,76.44 L386,75.67 L387.26,74.89 L388.55,74.11 L390.02,73.2 L391.49,72.23 L392.97,71.22 L394.47,70.2 L396.01,69.18 L397.57,68.19 L399.19,67.25 L400.86,66.38 L402.73,65.49 L404.64,64.65 L406.59,63.86 L408.59,63.1 L410.65,62.38 L412.77,61.69 L414.98,61.02 L417.26,60.36 L420.37,59.62 L423.75,58.99 L427.32,58.43 L430.96,57.9 L434.58,57.35 L438.06,56.75 L441.31,56.05 L444.22,55.21 L446.16,54.54 L448.06,53.87 L449.88,53.17 L451.61,52.43 L453.22,51.63 L454.69,50.75 L455.99,49.77 L457.11,48.68 L457.89,47.68 L458.52,46.63 L459.02,45.53 L459.43,44.37 L459.76,43.13 L460.06,41.81 L460.34,40.4 L460.63,38.89 L461.04,36.14 L461.32,33.02 L461.48,29.63 L461.57,26.04 L461.61,22.34 L461.64,18.61 L461.69,14.93 L461.8,11.4" stroke="#3ba3ec" stroke-width="0.9"/>
<path d="M344.6,97.3 L344.72,96.32 L344.8,95.31 L344.87,94.3 L344.94,93.29 L345.05,92.3 L345.2,91.34 L345.44,90.42 L345.77,89.57 L346.17,88.8 L346.63,88.06 L347.14,87.34 L347.71,86.66 L348.33,86.02 L348.99,85.43 L349.7,84.89 L350.46,84.41 L351.43,83.96 L352.51,83.62 L353.67,83.36 L354.88,83.17 L356.13,83.01 L357.39,82.87 L358.63,82.71 L359.84,82.53 L361.01,82.32 L362.18,82.12 L363.35,81.93 L364.52,81.74 L365.7,81.56 L366.87,81.37 L368.04,81.18 L369.21,80.98 L370.39,80.79 L371.56,80.64 L372.74,80.49 L373.92,80.33 L375.09,80.15 L376.26,79.92 L377.43,79.63 L378.59,79.26 L379.84,78.76 L381.08,78.16 L382.31,77.5 L383.53,76.77 L384.76,76.02 L386,75.24 L387.26,74.45 L388.55,73.68 L390.03,72.8 L391.54,71.9 L393.08,70.97 L394.63,70.02 L396.19,69.06 L397.75,68.1 L399.31,67.15 L400.86,66.2" stroke="#38aabf" stroke-width="0.9"/>
<path d="M344.6,97.3 L344.71,95.94 L344.77,94.57 L344.8,93.18 L344.85,91.8 L344.94,90.43 L345.1,89.1 L345.37,87.8 L345.77,86.56 L346.3,85.38 L346.91,84.23 L347.61,83.12 L348.39,82.04 L349.25,80.99 L350.2,79.96 L351.23,78.96 L352.34,77.97 L353.97,76.71 L355.81,75.53 L357.81,74.4 L359.94,73.3 L362.18,72.23 L364.5,71.16 L366.85,70.07 L369.21,68.95 L372.18,67.55 L375.32,66.1 L378.58,64.63 L381.92,63.17 L385.29,61.73 L388.62,60.34 L391.88,59.02 L395,57.79 L397.62,56.8 L400.22,55.87 L402.79,54.98 L405.32,54.14 L407.8,53.32 L410.24,52.51 L412.61,51.72 L414.92,50.91 L416.78,50.26 L418.54,49.63 L420.24,49.03 L421.92,48.43 L423.6,47.81 L425.31,47.18 L427.1,46.5 L428.98,45.76 L431.61,44.77 L434.47,43.75 L437.47,42.68 L440.52,41.56 L443.52,40.37 L446.37,39.11 L448.98,37.76 L451.25,36.31 L452.8,35.14 L454.26,33.92 L455.62,32.66 L456.87,31.35 L458.01,29.99 L459.02,28.57 L459.89,27.1 L460.63,25.57 L461.17,23.97 L461.5,22.27 L461.67,20.51 L461.73,18.7 L461.72,16.87 L461.7,15.02 L461.71,13.2 L461.8,11.4" stroke="#36ada4" stroke-width="0.9"/>
<path d="M344.6,97.3 L344.6,95.44 L344.57,93.54 L344.52,91.63 L344.48,89.72 L344.46,87.84 L344.5,86.03 L344.62,84.31 L344.83,82.7 L345.05,81.53 L345.29,80.41 L345.55,79.33 L345.86,78.29 L346.21,77.29 L346.62,76.33 L347.1,75.41 L347.65,74.54 L348.29,73.71 L349.02,72.93 L349.83,72.21 L350.69,71.52 L351.58,70.86 L352.5,70.22 L353.42,69.59 L354.33,68.95 L355.25,68.32 L356.18,67.71 L357.12,67.13 L358.09,66.56 L359.07,66 L360.08,65.42 L361.11,64.84 L362.18,64.23 L363.52,63.46 L364.9,62.66 L366.33,61.85 L367.79,61.02 L369.28,60.2 L370.8,59.38 L372.34,58.57 L373.9,57.79 L375.64,56.94 L377.42,56.11 L379.25,55.29 L381.1,54.47 L382.96,53.67 L384.83,52.88 L386.7,52.11 L388.55,51.34 L390.36,50.61 L392.16,49.9 L393.95,49.2 L395.75,48.51 L397.56,47.83 L399.4,47.15 L401.28,46.46 L403.2,45.76 L405.42,44.97 L407.69,44.2 L409.99,43.43 L412.34,42.65 L414.71,41.86 L417.11,41.05 L419.52,40.2 L421.95,39.32 L424.7,38.3 L427.56,37.24 L430.48,36.14 L433.4,35.02 L436.29,33.87 L439.09,32.7 L441.75,31.5 L444.22,30.3 L446.09,29.35 L447.93,28.42 L449.72,27.49 L451.44,26.54 L453.06,25.56 L454.56,24.5 L455.91,23.37 L457.11,22.14 L457.99,20.96 L458.72,19.69 L459.32,18.36 L459.84,16.98 L460.31,15.57 L460.77,14.16 L461.26,12.77 L461.8,11.4" stroke="#bb9832" stroke-width="0.9"/>
<path d="M344.6,97.3 L344.6,95.55 L344.57,93.76 L344.52,91.96 L344.48,90.16 L344.47,88.4 L344.51,86.69 L344.62,85.07 L344.83,83.56 L345.05,82.45 L345.29,81.39 L345.56,80.37 L345.87,79.39 L346.23,78.45 L346.64,77.54 L347.11,76.67 L347.65,75.82 L348.29,75.01 L349.02,74.24 L349.83,73.51 L350.69,72.82 L351.58,72.16 L352.5,71.51 L353.42,70.88 L354.33,70.24 L355.25,69.61 L356.18,69 L357.12,68.42 L358.09,67.85 L359.07,67.28 L360.08,66.71 L361.11,66.13 L362.18,65.52 L363.52,64.75 L364.9,63.95 L366.33,63.14 L367.79,62.31 L369.28,61.49 L370.8,60.67 L372.34,59.86 L373.9,59.07 L375.64,58.23 L377.42,57.4 L379.25,56.58 L381.1,55.76 L382.96,54.96 L384.83,54.17 L386.7,53.39 L388.55,52.63 L390.36,51.9 L392.16,51.18 L393.95,50.49 L395.75,49.8 L397.56,49.12 L399.4,48.44 L401.28,47.75 L403.2,47.05 L405.42,46.26 L407.69,45.49 L409.99,44.72 L412.34,43.94 L414.71,43.15 L417.11,42.34 L419.52,41.49 L421.95,40.61 L424.7,39.58 L427.56,38.53 L430.48,37.43 L433.4,36.31 L436.29,35.16 L439.09,33.98 L441.75,32.79 L444.22,31.59 L446.09,30.64 L447.94,29.73 L449.73,28.81 L451.44,27.88 L453.06,26.9 L454.56,25.85 L455.92,24.7 L457.11,23.43 L458.03,22.13 L458.77,20.72 L459.37,19.23 L459.89,17.68 L460.34,16.1 L460.79,14.51 L461.26,12.93 L461.8,11.4" stroke="#1a1a1a" stroke-width="1.1"/>
<path d="M344.6,97.3 L344.62,95.11 L344.62,92.86 L344.61,90.59 L344.6,88.33 L344.61,86.12 L344.66,83.99 L344.77,81.98 L344.95,80.12 L345.11,78.89 L345.27,77.71 L345.44,76.6 L345.64,75.53 L345.88,74.49 L346.17,73.49 L346.52,72.5 L346.94,71.53 L347.44,70.58 L348.01,69.67 L348.64,68.78 L349.32,67.92 L350.04,67.08 L350.79,66.26 L351.56,65.45 L352.34,64.66 L353.17,63.85 L354.05,63.09 L354.95,62.35 L355.88,61.63 L356.84,60.91 L357.82,60.18 L358.82,59.43 L359.84,58.64 L361.04,57.69 L362.25,56.72 L363.49,55.73 L364.76,54.72 L366.07,53.69 L367.44,52.64 L368.87,51.57 L370.38,50.48 L372.6,48.93 L375.06,47.25 L377.67,45.49 L380.36,43.71 L383.05,41.98 L385.66,40.34 L388.1,38.87 L390.31,37.6 L391.59,36.9 L392.76,36.29 L393.86,35.74 L394.92,35.24 L395.99,34.76 L397.11,34.28 L398.33,33.77 L399.68,33.22 L402,32.32 L404.56,31.4 L407.32,30.45 L410.21,29.48 L413.17,28.5 L416.16,27.52 L419.1,26.54 L421.95,25.57 L424.75,24.61 L427.58,23.63 L430.42,22.66 L433.25,21.68 L436.07,20.71 L438.84,19.74 L441.57,18.78 L444.22,17.84 L446.52,17.02 L448.77,16.2 L450.97,15.4 L453.14,14.59 L455.3,13.8 L457.46,13 L459.62,12.2 L461.8,11.4" stroke="#e866f4" stroke-width="0.9"/>
<path d="M344.6,97.3 L344.67,95.68 L344.73,94.06 L344.79,92.43 L344.86,90.8 L344.92,89.18 L345,87.57 L345.09,85.98 L345.19,84.41 L345.29,82.98 L345.39,81.55 L345.51,80.14 L345.63,78.75 L345.76,77.36 L345.9,75.98 L346.06,74.61 L346.24,73.25 L346.42,71.93 L346.59,70.63 L346.78,69.33 L346.98,68.04 L347.2,66.76 L347.46,65.48 L347.76,64.21 L348.12,62.94 L348.53,61.64 L348.98,60.37 L349.47,59.11 L350,57.86 L350.57,56.59 L351.19,55.31 L351.85,53.99 L352.57,52.63 L353.57,50.82 L354.68,48.96 L355.86,47.04 L357.12,45.09 L358.44,43.12 L359.81,41.13 L361.22,39.15 L362.65,37.17 L364.3,34.86 L366.01,32.41 L367.78,29.89 L369.61,27.39 L371.49,24.98 L373.42,22.75 L375.4,20.77 L377.42,19.13 L379.05,18.07 L380.7,17.18 L382.36,16.44 L384.07,15.83 L385.82,15.3 L387.63,14.84 L389.51,14.4 L391.48,13.98 L394.04,13.5 L396.7,13.16 L399.44,12.91 L402.29,12.73 L405.25,12.6 L408.34,12.5 L411.56,12.39 L414.92,12.26 L420.01,12.06 L425.51,11.92 L431.32,11.8 L437.35,11.71 L443.51,11.64 L449.7,11.57 L455.83,11.49 L461.8,11.4" stroke="#f668c2" stroke-width="0.9"/>
<path d="M344.6,97.3 L344.74,95.16 L344.88,93.03 L345.01,90.91 L345.14,88.78 L345.28,86.65 L345.43,84.5 L345.59,82.32 L345.77,80.12 L345.98,77.72 L346.19,75.29 L346.41,72.84 L346.65,70.37 L346.9,67.89 L347.17,65.39 L347.46,62.88 L347.76,60.36 L348.1,57.68 L348.45,54.93 L348.82,52.13 L349.2,49.34 L349.61,46.58 L350.05,43.9 L350.53,41.32 L351.05,38.89 L351.46,37.02 L351.87,35.17 L352.28,33.38 L352.71,31.64 L353.2,29.97 L353.75,28.4 L354.4,26.92 L355.15,25.57 L355.85,24.55 L356.59,23.61 L357.39,22.74 L358.24,21.93 L359.15,21.18 L360.1,20.46 L361.11,19.78 L362.18,19.13 L363.53,18.4 L364.95,17.74 L366.46,17.15 L368.03,16.61 L369.69,16.12 L371.41,15.66 L373.21,15.24 L375.07,14.84 L377.67,14.36 L380.38,13.98 L383.2,13.68 L386.16,13.44 L389.27,13.23 L392.54,13.05 L396.01,12.88 L399.68,12.69 L406.09,12.4 L413.22,12.18 L420.9,12.02 L428.97,11.88 L437.26,11.77 L445.61,11.66 L453.84,11.54 L461.8,11.4" stroke="#34af84" stroke-width="0.9"/>
<path d="M344.6,97.3 L346.94,71.53 L346.94,19.13 L352.8,14.84 L399.68,13.29 L461.8,11.4" stroke="#97a431" stroke-width="0.9"/>
<path d="M344.6,97.3 L345.54,71.53 L345.54,16.55 L349.87,12.69 L391.48,11.83 L461.8,11.4" stroke="#50b131" stroke-width="0.9"/>
</g>
<rect x="463.2" y="7" width="15" height="7.62" fill="#e68332"/>
<text x="470.7" y="12.58" font-size="5.2" text-anchor="middle" textLength="13" lengthAdjust="spacingAndGlyphs" fill="#1a1a1a">8e-01</text>
<rect x="463.2" y="14.57" width="15" height="7.62" fill="#f77189"/>
<text x="470.7" y="20.15" font-size="5.2" text-anchor="middle" textLength="13" lengthAdjust="spacingAndGlyphs" fill="#1a1a1a">2e-01</text>
<rect x="463.2" y="22.13" width="15" height="7.62" fill="#a48cf4"/>
<text x="470.7" y="27.72" font-size="5.2" text-anchor="middle" textLength="13" lengthAdjust="spacingAndGlyphs" fill="#1a1a1a">8e-02</text>
<rect x="463.2" y="29.7" width="15" height="7.62" fill="#3ba3ec"/>
<text x="470.7" y="35.28" font-size="5.2" text-anchor="middle" textLength="13" lengthAdjust="spacingAndGlyphs" fill="#1a1a1a">2e-02</text>
<rect x="463.2" y="37.27" width="15" height="7.62" fill="#38aabf"/>
<text x="470.7" y="42.85" font-size="5.2" text-anchor="middle" textLength="13" lengthAdjust="spacingAndGlyphs" fill="#1a1a1a">8e-03</text>
<rect x="463.2" y="44.83" width="15" height="7.62" fill="#36ada4"/>
<text x="470.7" y="50.42" font-size="5.2" text-anchor="middle" textLength="13" lengthAdjust="spacingAndGlyphs" fill="#1a1a1a">2e-03</text>
<rect x="463.2" y="52.4" width="15" height="7.62" fill="#bb9832"/>
<text x="470.7" y="57.98" font-size="5.2" text-anchor="middle" textLength="13" lengthAdjust="spacingAndGlyphs" fill="#1a1a1a">8e-04</text>
<rect x="463.2" y="59.97" width="15" height="7.62" fill="#f668c2"/>
<text x="470.7" y="65.55" font-size="5.2" text-anchor="middle" textLength="13" lengthAdjust="spacingAndGlyphs" fill="#1a1a1a">2e-04</text>
<rect x="463.2" y="67.53" width="15" height="7.62" fill="#e866f4"/>
<text x="470.7" y="73.12" font-size="5.2" text-anchor="middle" textLength="13" lengthAdjust="spacingAndGlyphs" fill="#1a1a1a">8e-05</text>
<rect x="463.2" y="75.1" width="15" height="7.62" fill="#50b131"/>
<text x="470.7" y="80.68" font-size="5.2" text-anchor="middle" textLength="13" lengthAdjust="spacingAndGlyphs" fill="#1a1a1a">2e-05</text>
<rect x="463.2" y="82.67" width="15" height="7.62" fill="#97a431"/>
<text x="470.7" y="88.25" font-size="5.2" text-anchor="middle" textLength="13" lengthAdjust="spacingAndGlyphs" fill="#1a1a1a">8e-06</text>
<rect x="463.2" y="90.23" width="15" height="7.62" fill="#34af84"/>
<text x="470.7" y="95.82" font-size="5.2" text-anchor="middle" textLength="13" lengthAdjust="spacingAndGlyphs" fill="#1a1a1a">8e-07</text>
<rect x="422.1" y="86.8" width="37.8" height="8.9" rx="0.6" fill="#ebebf0" stroke="#e0e0e6" stroke-width="0.5"/>
<line x1="423.3" y1="91.2" x2="433.4" y2="91.2" stroke="#3a3a3a" stroke-width="1.1"/>
<text x="437" y="93.2" font-size="5.6" font-style="italic" textLength="21" lengthAdjust="spacingAndGlyphs" fill="#333">η = Auto</text>
<text x="564.8" y="5.2" font-size="8" text-anchor="middle" textLength="16.31" lengthAdjust="spacingAndGlyphs" fill="#262626">mi-f</text>
<text x="503.1" y="99.9" font-size="6.6" text-anchor="end" textLength="9.8" lengthAdjust="spacingAndGlyphs" fill="#3a3a3a">0.0</text>
<text x="503.1" y="82.72" font-size="6.6" text-anchor="end" textLength="9.8" lengthAdjust="spacingAndGlyphs" fill="#3a3a3a">0.2</text>
<text x="503.1" y="65.54" font-size="6.6" text-anchor="end" textLength="9.8" lengthAdjust="spacingAndGlyphs" fill="#3a3a3a">0.4</text>
<text x="503.1" y="48.36" font-size="6.6" text-anchor="end" textLength="9.8" lengthAdjust="spacingAndGlyphs" fill="#3a3a3a">0.6</text>
<text x="503.1" y="31.18" font-size="6.6" text-anchor="end" textLength="9.8" lengthAdjust="spacingAndGlyphs" fill="#3a3a3a">0.8</text>
<text x="503.1" y="14" font-size="6.6" text-anchor="end" textLength="9.8" lengthAdjust="spacingAndGlyphs" fill="#3a3a3a">1.0</text>
<text x="506.2" y="105.7" font-size="6.6" text-anchor="middle" textLength="9.8" lengthAdjust="spacingAndGlyphs" fill="#3a3a3a">0.0</text>
<text x="529.64" y="105.7" font-size="6.6" text-anchor="middle" textLength="9.8" lengthAdjust="spacingAndGlyphs" fill="#3a3a3a">0.2</text>
<text x="553.08" y="105.7" font-size="6.6" text-anchor="middle" textLength="9.8" lengthAdjust="spacingAndGlyphs" fill="#3a3a3a">0.4</text>
<text x="576.52" y="105.7" font-size="6.6" text-anchor="middle" textLength="9.8" lengthAdjust="spacingAndGlyphs" fill="#3a3a3a">0.6</text>
<text x="599.96" y="105.7" font-size="6.6" text-anchor="middle" textLength="9.8" lengthAdjust="spacingAndGlyphs" fill="#3a3a3a">0.8</text>
<text x="623.4" y="105.7" font-size="6.6" text-anchor="middle" textLength="9.8" lengthAdjust="spacingAndGlyphs" fill="#3a3a3a">1.0</text>
<text x="564.8" y="113.9" font-size="7.4" text-anchor="middle" textLength="67.8" lengthAdjust="spacingAndGlyphs" fill="#3a3a3a">False Positive Rate</text>
<text transform="translate(491.2,52) rotate(-90)" font-size="7.4" text-anchor="middle" textLength="65.6" lengthAdjust="spacingAndGlyphs" fill="#3a3a3a">True Positive Rate</text>
<g fill="none" stroke-linejoin="round" stroke-linecap="butt">
<path d="M568.32,97.3 L623.4,11.4" stroke="#36ada4" stroke-width="0.9"/>
<path d="M506.2,97.3 L539.02,80.98 L558.94,69.81 L584.72,54.35 L595.27,50.05 L617.54,35.45 L623.17,35.45 L623.4,11.4" stroke="#97a431" stroke-width="0.9"/>
<path d="M506.2,97.3 L508.15,97.23 L510.17,97.2 L512.21,97.19 L514.25,97.17 L516.22,97.11 L518.11,96.99 L519.86,96.78 L521.44,96.44 L522.41,96.15 L523.3,95.84 L524.12,95.5 L524.89,95.12 L525.64,94.69 L526.4,94.2 L527.17,93.64 L528,93 L529.32,91.81 L530.68,90.32 L532.07,88.64 L533.47,86.85 L534.88,85.01 L536.29,83.23 L537.67,81.57 L539.02,80.12 L540.03,79.15 L540.99,78.29 L541.92,77.51 L542.86,76.76 L543.82,76 L544.85,75.19 L545.97,74.29 L547.22,73.25 L549.92,70.9 L553.13,68.04 L556.69,64.84 L560.43,61.49 L564.21,58.16 L567.86,55.03 L571.24,52.27 L574.18,50.05 L575.64,49.07 L576.94,48.26 L578.15,47.58 L579.31,46.97 L580.49,46.37 L581.75,45.72 L583.14,44.96 L584.72,44.04 L588.53,41.85 L593.29,39.23 L598.64,36.28 L604.21,33.13 L609.6,29.9 L614.46,26.69 L618.4,23.64 L621.06,20.85 L621.81,19.62 L622.32,18.42 L622.64,17.23 L622.83,16.06 L622.94,14.9 L623.04,13.74 L623.17,12.57 L623.4,11.4" stroke="#50b131" stroke-width="0.9"/>
<path d="M506.2,97.3 L531.98,80.12 L554.96,65.95 L584.72,44.04 L623.4,11.4" stroke="#b0b0b0" stroke-width="0.8" stroke-dasharray="1.5,1.2"/>
<path d="M506.2,97.3 L529.17,80.12 L554.96,62.94 L584.72,41.46 L623.4,11.4" stroke="#e68332" stroke-width="0.9"/>
<path d="M506.2,97.3 L522.61,80.12 L554.96,58.64 L584.72,38.03 L623.4,11.4" stroke="#f77189" stroke-width="0.9"/>
<path d="M506.2,97.3 L507.02,97.16 L507.83,97.05 L508.63,96.96 L509.44,96.86 L510.25,96.74 L511.08,96.56 L511.91,96.33 L512.76,96.01 L513.98,95.45 L515.3,94.75 L516.67,93.94 L518.04,93.05 L519.36,92.1 L520.6,91.12 L521.7,90.12 L522.61,89.14 L523.16,88.38 L523.6,87.6 L523.96,86.8 L524.27,85.98 L524.55,85.16 L524.84,84.33 L525.16,83.51 L525.54,82.7 L526,81.84 L526.5,80.98 L527.01,80.11 L527.53,79.25 L528.07,78.39 L528.6,77.53 L529.13,76.68 L529.64,75.82 L530.12,75.01 L530.59,74.22 L531.05,73.44 L531.51,72.65 L531.98,71.86 L532.47,71.04 L532.97,70.19 L533.51,69.3 L534.25,68.07 L535.04,66.77 L535.86,65.43 L536.71,64.05 L537.58,62.64 L538.46,61.2 L539.33,59.75 L540.19,58.3 L541.12,56.7 L542.05,55.06 L542.99,53.39 L543.93,51.71 L544.88,50.01 L545.84,48.31 L546.81,46.6 L547.81,44.9 L548.84,43.03 L549.87,41.02 L550.9,38.95 L551.94,36.9 L553.02,34.96 L554.15,33.2 L555.33,31.7 L556.6,30.56 L557.52,29.98 L558.44,29.58 L559.39,29.31 L560.36,29.13 L561.38,29.01 L562.45,28.9 L563.59,28.77 L564.8,28.58 L566.83,28.23 L569.02,27.88 L571.36,27.54 L573.83,27.21 L576.42,26.89 L579.11,26.58 L581.88,26.28 L584.72,26 L589.02,25.82 L593.99,25.9 L599.34,26.1 L604.75,26.28 L609.94,26.28 L614.58,25.96 L618.39,25.17 L621.06,23.77 L622.02,22.62 L622.63,21.25 L622.97,19.73 L623.11,18.1 L623.14,16.4 L623.14,14.68 L623.2,13 L623.4,11.4" stroke="#e866f4" stroke-width="0.9"/>
<path d="M506.2,97.3 L506.87,96.28 L507.55,95.27 L508.22,94.26 L508.89,93.24 L509.57,92.23 L510.24,91.21 L510.92,90.18 L511.59,89.14 L512.3,88.04 L513.01,86.93 L513.73,85.79 L514.45,84.66 L515.16,83.53 L515.87,82.42 L516.55,81.34 L517.22,80.29 L517.77,79.42 L518.29,78.57 L518.8,77.73 L519.3,76.91 L519.81,76.1 L520.33,75.3 L520.87,74.49 L521.44,73.68 L522.09,72.84 L522.78,72.02 L523.51,71.23 L524.25,70.43 L524.98,69.61 L525.68,68.76 L526.34,67.86 L526.94,66.89 L527.54,65.69 L528.06,64.41 L528.51,63.06 L528.94,61.67 L529.35,60.26 L529.79,58.84 L530.27,57.44 L530.81,56.07 L531.46,54.68 L532.15,53.32 L532.87,51.97 L533.62,50.62 L534.39,49.25 L535.16,47.85 L535.92,46.41 L536.67,44.9 L537.53,42.95 L538.37,40.81 L539.21,38.57 L540.05,36.31 L540.9,34.09 L541.79,32.02 L542.72,30.15 L543.7,28.58 L544.36,27.7 L545,26.9 L545.65,26.17 L546.31,25.52 L547.02,24.92 L547.78,24.38 L548.63,23.88 L549.56,23.43 L551.06,22.9 L552.75,22.52 L554.59,22.27 L556.54,22.11 L558.57,22 L560.65,21.92 L562.74,21.84 L564.8,21.71 L567.12,21.55 L569.45,21.44 L571.81,21.36 L574.22,21.29 L576.7,21.22 L579.26,21.14 L581.93,21.02 L584.72,20.85 L589.05,20.65 L594.06,20.53 L599.46,20.42 L604.92,20.25 L610.13,19.94 L614.77,19.41 L618.51,18.59 L621.06,17.41 L621.72,16.79 L622.18,16.1 L622.5,15.36 L622.71,14.58 L622.86,13.77 L622.99,12.97 L623.16,12.17 L623.4,11.4" stroke="#f668c2" stroke-width="0.9"/>
<path d="M506.2,97.3 L506.63,95.47 L507.06,93.64 L507.49,91.8 L507.91,89.96 L508.35,88.13 L508.79,86.31 L509.24,84.5 L509.72,82.7 L510.18,80.94 L510.63,79.18 L511.08,77.42 L511.55,75.67 L512.05,73.94 L512.58,72.23 L513.17,70.57 L513.82,68.95 L514.49,67.46 L515.19,65.99 L515.93,64.55 L516.71,63.14 L517.54,61.76 L518.4,60.4 L519.31,59.08 L520.26,57.79 L521.29,56.51 L522.37,55.28 L523.5,54.08 L524.67,52.91 L525.88,51.76 L527.12,50.62 L528.37,49.48 L529.64,48.34 L531.02,47.12 L532.43,45.9 L533.88,44.68 L535.36,43.48 L536.85,42.3 L538.36,41.13 L539.86,39.99 L541.36,38.89 L542.79,37.85 L544.21,36.83 L545.63,35.83 L547.06,34.85 L548.51,33.9 L549.99,32.96 L551.51,32.05 L553.08,31.16 L554.86,30.21 L556.69,29.28 L558.57,28.38 L560.48,27.51 L562.42,26.66 L564.38,25.84 L566.35,25.05 L568.32,24.28 L570.31,23.55 L572.3,22.86 L574.3,22.19 L576.32,21.56 L578.37,20.94 L580.44,20.34 L582.56,19.74 L584.72,19.13 L587.24,18.44 L589.84,17.74 L592.51,17.04 L595.21,16.36 L597.91,15.7 L600.6,15.08 L603.25,14.5 L605.82,13.98 L608.09,13.56 L610.32,13.19 L612.52,12.87 L614.7,12.56 L616.87,12.28 L619.04,12 L621.21,11.71 L623.4,11.4" stroke="#1a1a1a" stroke-width="1.1"/>
<path d="M506.2,97.3 L506.83,94.5 L507.45,91.69 L508.06,88.88 L508.68,86.06 L509.3,83.26 L509.95,80.47 L510.63,77.7 L511.36,74.97 L512.09,72.33 L512.85,69.72 L513.63,67.12 L514.44,64.54 L515.27,61.98 L516.12,59.43 L517.01,56.88 L517.92,54.35 L518.83,51.78 L519.72,49.12 L520.63,46.45 L521.57,43.8 L522.56,41.24 L523.64,38.81 L524.82,36.58 L526.12,34.59 L527.24,33.2 L528.39,31.95 L529.59,30.81 L530.85,29.76 L532.18,28.78 L533.59,27.84 L535.08,26.93 L536.67,26 L538.88,24.84 L541.28,23.73 L543.82,22.69 L546.49,21.7 L549.25,20.77 L552.07,19.89 L554.92,19.06 L557.77,18.27 L560.92,17.47 L564.12,16.75 L567.37,16.09 L570.69,15.49 L574.07,14.95 L577.54,14.45 L581.09,13.98 L584.72,13.55 L589.22,13.1 L593.89,12.75 L598.7,12.47 L603.61,12.24 L608.58,12.04 L613.56,11.85 L618.52,11.64 L623.4,11.4" stroke="#a48cf4" stroke-width="0.9"/>
<path d="M506.2,97.3 L506.83,94.27 L507.44,91.2 L508.04,88.11 L508.64,85.04 L509.27,81.99 L509.92,78.99 L510.61,76.07 L511.36,73.25 L512.06,70.86 L512.79,68.57 L513.55,66.34 L514.34,64.15 L515.15,61.97 L515.98,59.77 L516.83,57.52 L517.69,55.21 L518.63,52.48 L519.54,49.57 L520.47,46.58 L521.42,43.58 L522.44,40.66 L523.54,37.9 L524.76,35.39 L526.12,33.22 L527.24,31.8 L528.39,30.54 L529.59,29.4 L530.85,28.37 L532.18,27.41 L533.59,26.5 L535.08,25.61 L536.67,24.71 L538.88,23.59 L541.28,22.53 L543.82,21.54 L546.49,20.61 L549.26,19.73 L552.08,18.91 L554.92,18.14 L557.77,17.41 L560.92,16.67 L564.12,16 L567.38,15.4 L570.69,14.85 L574.08,14.36 L577.54,13.92 L581.09,13.5 L584.72,13.12 L589.22,12.73 L593.89,12.43 L598.7,12.2 L603.62,12.03 L608.58,11.88 L613.56,11.74 L618.52,11.59 L623.4,11.4" stroke="#3ba3ec" stroke-width="0.9"/>
<path d="M506.2,97.3 L506.88,93.99 L507.47,90.57 L508.03,87.09 L508.61,83.64 L509.26,80.28 L510.01,77.1 L510.93,74.16 L512.06,71.53 L513.1,69.86 L514.3,68.45 L515.6,67.21 L516.96,66.05 L518.33,64.88 L519.64,63.6 L520.85,62.13 L521.9,60.36 L523.14,56.95 L524.02,52.78 L524.66,48.11 L525.19,43.23 L525.71,38.39 L526.36,33.87 L527.24,29.93 L528.47,26.86 L529.29,25.51 L530.13,24.35 L531,23.35 L531.93,22.46 L532.94,21.67 L534.05,20.92 L535.29,20.2 L536.67,19.47 L539.24,18.35 L542.16,17.39 L545.41,16.55 L548.92,15.82 L552.67,15.18 L556.59,14.6 L560.65,14.06 L564.8,13.55 L571.09,12.92 L577.93,12.49 L585.19,12.2 L592.75,12.01 L600.47,11.88 L608.24,11.76 L615.93,11.62 L623.4,11.4" stroke="#38aabf" stroke-width="0.9"/>
<path d="M506.2,97.3 L506.95,94.06 L507.71,90.81 L508.49,87.54 L509.26,84.28 L510.01,81.03 L510.74,77.82 L511.43,74.65 L512.06,71.53 L512.57,68.75 L513.01,66 L513.41,63.27 L513.79,60.58 L514.18,57.91 L514.59,55.27 L515.05,52.65 L515.58,50.05 L516.08,47.54 L516.54,44.94 L517,42.33 L517.51,39.76 L518.1,37.29 L518.83,35 L519.73,32.93 L520.85,31.16 L521.93,29.96 L523.14,28.93 L524.47,28.05 L525.88,27.29 L527.36,26.6 L528.88,25.97 L530.43,25.35 L531.98,24.71 L533.7,24.04 L535.42,23.44 L537.17,22.9 L538.98,22.4 L540.86,21.92 L542.85,21.45 L544.96,20.95 L547.22,20.42 L551.1,19.51 L555.39,18.52 L560.01,17.49 L564.86,16.47 L569.85,15.48 L574.89,14.57 L579.88,13.77 L584.72,13.12 L589.51,12.63 L594.33,12.29 L599.16,12.06 L604,11.91 L608.86,11.8 L613.71,11.7 L618.56,11.58 L623.4,11.4" stroke="#bb9832" stroke-width="0.9"/>
<path d="M506.2,97.3 L506.76,94.59 L507.3,91.84 L507.81,89.07 L508.34,86.31 L508.89,83.58 L509.49,80.91 L510.15,78.31 L510.89,75.82 L511.64,73.8 L512.5,71.92 L513.42,70.14 L514.36,68.39 L515.3,66.6 L516.19,64.7 L517,62.65 L517.69,60.36 L518.39,56.18 L518.74,51.14 L518.86,45.59 L518.9,39.88 L518.99,34.37 L519.26,29.41 L519.83,25.36 L520.85,22.57 L521.37,21.85 L521.91,21.3 L522.48,20.89 L523.09,20.58 L523.75,20.32 L524.46,20.08 L525.25,19.81 L526.12,19.47 L528.02,18.74 L530.22,17.98 L532.68,17.22 L535.36,16.47 L538.2,15.75 L541.15,15.09 L544.17,14.49 L547.22,13.98 L551.37,13.46 L555.8,13.09 L560.44,12.84 L565.24,12.67 L570.13,12.57 L575.05,12.48 L579.93,12.39 L584.72,12.26 L589.53,12.11 L594.35,11.98 L599.18,11.87 L604.02,11.77 L608.87,11.68 L613.72,11.59 L618.56,11.5 L623.4,11.4" stroke="#34af84" stroke-width="0.9"/>
</g>
<rect x="624.8" y="7" width="15" height="7.62" fill="#e68332"/>
<text x="632.3" y="12.58" font-size="5.2" text-anchor="middle" textLength="13" lengthAdjust="spacingAndGlyphs" fill="#1a1a1a">8e-01</text>
<rect x="624.8" y="14.57" width="15" height="7.62" fill="#f77189"/>
<text x="632.3" y="20.15" font-size="5.2" text-anchor="middle" textLength="13" lengthAdjust="spacingAndGlyphs" fill="#1a1a1a">2e-01</text>
<rect x="624.8" y="22.13" width="15" height="7.62" fill="#a48cf4"/>
<text x="632.3" y="27.72" font-size="5.2" text-anchor="middle" textLength="13" lengthAdjust="spacingAndGlyphs" fill="#1a1a1a">8e-02</text>
<rect x="624.8" y="29.7" width="15" height="7.62" fill="#3ba3ec"/>
<text x="632.3" y="35.28" font-size="5.2" text-anchor="middle" textLength="13" lengthAdjust="spacingAndGlyphs" fill="#1a1a1a">2e-02</text>
<rect x="624.8" y="37.27" width="15" height="7.62" fill="#38aabf"/>
<text x="632.3" y="42.85" font-size="5.2" text-anchor="middle" textLength="13" lengthAdjust="spacingAndGlyphs" fill="#1a1a1a">8e-03</text>
<rect x="624.8" y="44.83" width="15" height="7.62" fill="#36ada4"/>
<text x="632.3" y="50.42" font-size="5.2" text-anchor="middle" textLength="13" lengthAdjust="spacingAndGlyphs" fill="#1a1a1a">2e-03</text>
<rect x="624.8" y="52.4" width="15" height="7.62" fill="#bb9832"/>
<text x="632.3" y="57.98" font-size="5.2" text-anchor="middle" textLength="13" lengthAdjust="spacingAndGlyphs" fill="#1a1a1a">8e-04</text>
<rect x="624.8" y="59.97" width="15" height="7.62" fill="#f668c2"/>
<text x="632.3" y="65.55" font-size="5.2" text-anchor="middle" textLength="13" lengthAdjust="spacingAndGlyphs" fill="#1a1a1a">2e-04</text>
<rect x="624.8" y="67.53" width="15" height="7.62" fill="#e866f4"/>
<text x="632.3" y="73.12" font-size="5.2" text-anchor="middle" textLength="13" lengthAdjust="spacingAndGlyphs" fill="#1a1a1a">8e-05</text>
<rect x="624.8" y="75.1" width="15" height="7.62" fill="#50b131"/>
<text x="632.3" y="80.68" font-size="5.2" text-anchor="middle" textLength="13" lengthAdjust="spacingAndGlyphs" fill="#1a1a1a">2e-05</text>
<rect x="624.8" y="82.67" width="15" height="7.62" fill="#97a431"/>
<text x="632.3" y="88.25" font-size="5.2" text-anchor="middle" textLength="13" lengthAdjust="spacingAndGlyphs" fill="#1a1a1a">8e-06</text>
<rect x="624.8" y="90.23" width="15" height="7.62" fill="#34af84"/>
<text x="632.3" y="95.82" font-size="5.2" text-anchor="middle" textLength="13" lengthAdjust="spacingAndGlyphs" fill="#1a1a1a">8e-07</text>
<rect x="583.7" y="86.8" width="37.8" height="8.9" rx="0.6" fill="#ebebf0" stroke="#e0e0e6" stroke-width="0.5"/>
<line x1="584.9" y1="91.2" x2="595" y2="91.2" stroke="#3a3a3a" stroke-width="1.1"/>
<text x="598.6" y="93.2" font-size="5.6" font-style="italic" textLength="21" lengthAdjust="spacingAndGlyphs" fill="#333">η = Auto</text>
<text x="80" y="128.9" font-size="8" text-anchor="middle" textLength="23.23" lengthAdjust="spacingAndGlyphs" fill="#262626">mnist</text>
<line x1="21.6" y1="131.1" x2="21.6" y2="221.4" stroke="#9c9c9c" stroke-width="1"/>
<text x="18.3" y="224" font-size="6.6" text-anchor="end" textLength="9.8" lengthAdjust="spacingAndGlyphs" fill="#3a3a3a">0.0</text>
<text x="18.3" y="206.82" font-size="6.6" text-anchor="end" textLength="9.8" lengthAdjust="spacingAndGlyphs" fill="#3a3a3a">0.2</text>
<text x="18.3" y="189.64" font-size="6.6" text-anchor="end" textLength="9.8" lengthAdjust="spacingAndGlyphs" fill="#3a3a3a">0.4</text>
<text x="18.3" y="172.46" font-size="6.6" text-anchor="end" textLength="9.8" lengthAdjust="spacingAndGlyphs" fill="#3a3a3a">0.6</text>
<text x="18.3" y="155.28" font-size="6.6" text-anchor="end" textLength="9.8" lengthAdjust="spacingAndGlyphs" fill="#3a3a3a">0.8</text>
<text x="18.3" y="138.1" font-size="6.6" text-anchor="end" textLength="9.8" lengthAdjust="spacingAndGlyphs" fill="#3a3a3a">1.0</text>
<text x="21.4" y="229.8" font-size="6.6" text-anchor="middle" textLength="9.8" lengthAdjust="spacingAndGlyphs" fill="#3a3a3a">0.0</text>
<text x="44.84" y="229.8" font-size="6.6" text-anchor="middle" textLength="9.8" lengthAdjust="spacingAndGlyphs" fill="#3a3a3a">0.2</text>
<text x="68.28" y="229.8" font-size="6.6" text-anchor="middle" textLength="9.8" lengthAdjust="spacingAndGlyphs" fill="#3a3a3a">0.4</text>
<text x="91.72" y="229.8" font-size="6.6" text-anchor="middle" textLength="9.8" lengthAdjust="spacingAndGlyphs" fill="#3a3a3a">0.6</text>
<text x="115.16" y="229.8" font-size="6.6" text-anchor="middle" textLength="9.8" lengthAdjust="spacingAndGlyphs" fill="#3a3a3a">0.8</text>
<text x="138.6" y="229.8" font-size="6.6" text-anchor="middle" textLength="9.8" lengthAdjust="spacingAndGlyphs" fill="#3a3a3a">1.0</text>
<text x="80" y="238" font-size="7.4" text-anchor="middle" textLength="67.8" lengthAdjust="spacingAndGlyphs" fill="#3a3a3a">False Positive Rate</text>
<text transform="translate(6.4,176.1) rotate(-90)" font-size="7.4" text-anchor="middle" textLength="65.6" lengthAdjust="spacingAndGlyphs" fill="#3a3a3a">True Positive Rate</text>
<g fill="none" stroke-linejoin="round" stroke-linecap="butt">
<path d="M21.4,221.4 L46.01,221.4 L138.6,135.5" stroke="#e68332" stroke-width="0.9"/>
<path d="M21.4,221.4 L138.6,135.5" stroke="#34af84" stroke-width="0.9"/>
<path d="M21.4,221.4 L24.92,192.19 L138.37,192.19 L138.37,135.5" stroke="#f77189" stroke-width="0.9"/>
<path d="M21.4,221.4 L24.92,182.74 L36.99,182.74 L36.99,135.5 L138.6,135.5" stroke="#97a431" stroke-width="0.9"/>
<path d="M21.4,221.4 L36.64,175.01 L42.5,158.69 L50.7,148.81 L63.59,135.5 L138.6,135.5" stroke="#50b131" stroke-width="0.9"/>
<path d="M21.4,221.4 L21.69,215.89 L21.97,210.18 L22.24,204.4 L22.52,198.65 L22.8,193.06 L23.1,187.75 L23.41,182.84 L23.74,178.45 L23.9,175.98 L23.99,173.62 L24.05,171.38 L24.13,169.27 L24.27,167.28 L24.54,165.43 L24.97,163.71 L25.62,162.13 L26.28,160.99 L27.04,159.94 L27.89,158.98 L28.81,158.09 L29.81,157.29 L30.87,156.55 L31.97,155.87 L33.12,155.26 L34.5,154.69 L35.97,154.31 L37.53,154.05 L39.16,153.86 L40.84,153.68 L42.55,153.46 L44.28,153.15 L46.01,152.68 L48.2,151.87 L50.43,150.87 L52.71,149.73 L55.03,148.53 L57.39,147.3 L59.81,146.12 L62.26,145.03 L64.76,144.09 L67.47,143.23 L70.17,142.45 L72.9,141.74 L75.7,141.1 L78.59,140.51 L81.62,139.96 L84.81,139.44 L88.2,138.94 L93.57,138.28 L99.44,137.74 L105.68,137.3 L112.19,136.92 L118.85,136.58 L125.55,136.25 L132.17,135.9 L138.6,135.5" stroke="#38aabf" stroke-width="0.9"/>
<path d="M21.4,221.4 L21.54,217.04 L21.68,212.57 L21.82,208.07 L21.96,203.58 L22.1,199.18 L22.25,194.91 L22.4,190.85 L22.57,187.04 L22.66,184.36 L22.68,181.75 L22.67,179.21 L22.68,176.77 L22.76,174.44 L22.93,172.21 L23.24,170.11 L23.74,168.14 L24.24,166.74 L24.82,165.44 L25.46,164.21 L26.17,163.05 L26.94,161.94 L27.77,160.85 L28.66,159.77 L29.6,158.69 L30.75,157.44 L31.99,156.19 L33.31,154.95 L34.7,153.74 L36.16,152.6 L37.68,151.54 L39.25,150.58 L40.86,149.76 L42.64,149.07 L44.53,148.54 L46.5,148.15 L48.52,147.84 L50.57,147.58 L52.61,147.33 L54.61,147.03 L56.56,146.67 L58.35,146.26 L60.1,145.83 L61.82,145.4 L63.54,144.96 L65.27,144.52 L67.01,144.08 L68.79,143.65 L70.62,143.23 L72.66,142.77 L74.66,142.32 L76.66,141.87 L78.71,141.42 L80.84,140.99 L83.11,140.57 L85.55,140.17 L88.2,139.79 L93.25,139.23 L98.96,138.73 L105.19,138.29 L111.77,137.89 L118.55,137.52 L125.39,137.15 L132.12,136.77 L138.6,136.36" stroke="#3ba3ec" stroke-width="0.9"/>
<path d="M21.4,221.4 L22.57,195.63 L26.09,178.45 L29.6,169.86 L33.12,166.94 L36.64,158.69 L40.86,150.96 L46.01,148.81 L54.22,144.09 L63.59,135.93 L138.6,135.5" stroke="#e866f4" stroke-width="0.9"/>
<path d="M21.4,221.4 L21.54,216.49 L21.68,211.45 L21.82,206.37 L21.95,201.32 L22.1,196.36 L22.24,191.56 L22.4,187 L22.57,182.74 L22.66,179.81 L22.68,176.97 L22.68,174.23 L22.7,171.59 L22.77,169.06 L22.95,166.63 L23.26,164.32 L23.74,162.13 L24.25,160.5 L24.85,158.95 L25.53,157.47 L26.26,156.05 L27.05,154.7 L27.88,153.4 L28.73,152.16 L29.6,150.96 L30.36,149.96 L31.12,149.02 L31.88,148.12 L32.68,147.27 L33.54,146.45 L34.47,145.65 L35.49,144.87 L36.64,144.09 L38.48,142.95 L40.47,141.84 L42.62,140.76 L44.96,139.74 L47.5,138.77 L50.27,137.88 L53.28,137.07 L56.56,136.36 L64.09,135.35 L73.07,134.81 L83.15,134.65 L94.02,134.75 L105.33,134.99 L116.76,135.27 L127.96,135.48 L138.6,135.5" stroke="#a48cf4" stroke-width="0.9"/>
<path d="M21.4,221.4 L21.54,215.95 L21.68,210.37 L21.82,204.75 L21.96,199.15 L22.1,193.65 L22.25,188.32 L22.4,183.23 L22.57,178.45 L22.67,175.04 L22.73,171.7 L22.78,168.46 L22.84,165.34 L22.94,162.35 L23.1,159.51 L23.36,156.86 L23.74,154.4 L24.04,152.85 L24.33,151.38 L24.65,149.99 L25,148.66 L25.42,147.41 L25.92,146.24 L26.53,145.13 L27.26,144.09 L28.12,143.12 L29.08,142.24 L30.15,141.43 L31.29,140.7 L32.53,140.02 L33.83,139.41 L35.2,138.85 L36.64,138.33 L38.63,137.76 L40.71,137.35 L42.9,137.06 L45.22,136.87 L47.72,136.73 L50.43,136.62 L53.36,136.51 L56.56,136.36 L64.14,136.05 L73.14,135.85 L83.24,135.73 L94.09,135.67 L105.38,135.64 L116.78,135.62 L127.96,135.58 L138.6,135.5" stroke="#36ada4" stroke-width="0.9"/>
<path d="M21.4,221.4 L21.54,215.52 L21.68,209.54 L21.82,203.51 L21.96,197.5 L22.11,191.58 L22.25,185.81 L22.41,180.27 L22.57,175.01 L22.67,171 L22.71,166.96 L22.73,162.97 L22.77,159.12 L22.86,155.48 L23.03,152.14 L23.31,149.18 L23.74,146.67 L24.01,145.59 L24.28,144.62 L24.57,143.73 L24.89,142.91 L25.24,142.16 L25.63,141.47 L26.06,140.83 L26.56,140.22 L27.05,139.73 L27.6,139.3 L28.18,138.92 L28.8,138.58 L29.43,138.26 L30.08,137.97 L30.72,137.68 L31.36,137.39 L31.95,137.1 L32.48,136.83 L33,136.58 L33.53,136.34 L34.12,136.11 L34.81,135.9 L35.64,135.7 L36.64,135.5 L43.22,134.87 L53.07,134.58 L65.44,134.54 L79.57,134.68 L94.71,134.93 L110.09,135.19 L124.97,135.41 L138.6,135.5" stroke="#f668c2" stroke-width="0.9"/>
<path d="M21.4,221.4 L21.87,199.92 L22.57,180.17 L23.74,169.86 L25.62,163.42 L27.85,159.55 L30.78,156.55 L35.11,154.83 L41.32,153.97 L50.7,153.54" stroke="#1a1a1a" stroke-width="1.1"/>
<path d="M50.7,153.54 L138.37,153.11 L138.37,135.5" stroke="#2a2a2a" stroke-width="0.9"/>
</g>
<rect x="140" y="130.5" width="15" height="7.67" fill="#e68332"/>
<text x="147.5" y="136.11" font-size="5.2" text-anchor="middle" textLength="13" lengthAdjust="spacingAndGlyphs" fill="#1a1a1a">8e-01</text>
<rect x="140" y="138.12" width="15" height="7.67" fill="#f77189"/>
<text x="147.5" y="143.73" font-size="5.2" text-anchor="middle" textLength="13" lengthAdjust="spacingAndGlyphs" fill="#1a1a1a">2e-01</text>
<rect x="140" y="145.73" width="15" height="7.67" fill="#a48cf4"/>
<text x="147.5" y="151.34" font-size="5.2" text-anchor="middle" textLength="13" lengthAdjust="spacingAndGlyphs" fill="#1a1a1a">8e-02</text>
<rect x="140" y="153.35" width="15" height="7.67" fill="#3ba3ec"/>
<text x="147.5" y="158.96" font-size="5.2" text-anchor="middle" textLength="13" lengthAdjust="spacingAndGlyphs" fill="#1a1a1a">2e-02</text>
<rect x="140" y="160.97" width="15" height="7.67" fill="#38aabf"/>
<text x="147.5" y="166.58" font-size="5.2" text-anchor="middle" textLength="13" lengthAdjust="spacingAndGlyphs" fill="#1a1a1a">8e-03</text>
<rect x="140" y="168.58" width="15" height="7.67" fill="#36ada4"/>
<text x="147.5" y="174.19" font-size="5.2" text-anchor="middle" textLength="13" lengthAdjust="spacingAndGlyphs" fill="#1a1a1a">2e-03</text>
<rect x="140" y="176.2" width="15" height="7.67" fill="#bb9832"/>
<text x="147.5" y="181.81" font-size="5.2" text-anchor="middle" textLength="13" lengthAdjust="spacingAndGlyphs" fill="#1a1a1a">8e-04</text>
<rect x="140" y="183.82" width="15" height="7.67" fill="#f668c2"/>
<text x="147.5" y="189.43" font-size="5.2" text-anchor="middle" textLength="13" lengthAdjust="spacingAndGlyphs" fill="#1a1a1a">2e-04</text>
<rect x="140" y="191.43" width="15" height="7.67" fill="#e866f4"/>
<text x="147.5" y="197.04" font-size="5.2" text-anchor="middle" textLength="13" lengthAdjust="spacingAndGlyphs" fill="#1a1a1a">8e-05</text>
<rect x="140" y="199.05" width="15" height="7.67" fill="#50b131"/>
<text x="147.5" y="204.66" font-size="5.2" text-anchor="middle" textLength="13" lengthAdjust="spacingAndGlyphs" fill="#1a1a1a">2e-05</text>
<rect x="140" y="206.67" width="15" height="7.67" fill="#97a431"/>
<text x="147.5" y="212.27" font-size="5.2" text-anchor="middle" textLength="13" lengthAdjust="spacingAndGlyphs" fill="#1a1a1a">8e-06</text>
<rect x="140" y="214.28" width="15" height="7.67" fill="#34af84"/>
<text x="147.5" y="219.89" font-size="5.2" text-anchor="middle" textLength="13" lengthAdjust="spacingAndGlyphs" fill="#1a1a1a">8e-07</text>
<rect x="98.9" y="210.9" width="37.8" height="8.9" rx="0.6" fill="#ebebf0" stroke="#e0e0e6" stroke-width="0.5"/>
<line x1="100.1" y1="215.3" x2="110.2" y2="215.3" stroke="#3a3a3a" stroke-width="1.1"/>
<text x="113.8" y="217.3" font-size="5.6" font-style="italic" textLength="21" lengthAdjust="spacingAndGlyphs" fill="#333">η = Auto</text>
<text x="241.6" y="128.9" font-size="8" text-anchor="middle" textLength="30.34" lengthAdjust="spacingAndGlyphs" fill="#262626">stamps</text>
<line x1="183.2" y1="131.1" x2="183.2" y2="221.4" stroke="#9c9c9c" stroke-width="1"/>
<text x="179.9" y="224" font-size="6.6" text-anchor="end" textLength="9.8" lengthAdjust="spacingAndGlyphs" fill="#3a3a3a">0.0</text>
<text x="179.9" y="206.82" font-size="6.6" text-anchor="end" textLength="9.8" lengthAdjust="spacingAndGlyphs" fill="#3a3a3a">0.2</text>
<text x="179.9" y="189.64" font-size="6.6" text-anchor="end" textLength="9.8" lengthAdjust="spacingAndGlyphs" fill="#3a3a3a">0.4</text>
<text x="179.9" y="172.46" font-size="6.6" text-anchor="end" textLength="9.8" lengthAdjust="spacingAndGlyphs" fill="#3a3a3a">0.6</text>
<text x="179.9" y="155.28" font-size="6.6" text-anchor="end" textLength="9.8" lengthAdjust="spacingAndGlyphs" fill="#3a3a3a">0.8</text>
<text x="179.9" y="138.1" font-size="6.6" text-anchor="end" textLength="9.8" lengthAdjust="spacingAndGlyphs" fill="#3a3a3a">1.0</text>
<text x="183" y="229.8" font-size="6.6" text-anchor="middle" textLength="9.8" lengthAdjust="spacingAndGlyphs" fill="#3a3a3a">0.0</text>
<text x="206.44" y="229.8" font-size="6.6" text-anchor="middle" textLength="9.8" lengthAdjust="spacingAndGlyphs" fill="#3a3a3a">0.2</text>
<text x="229.88" y="229.8" font-size="6.6" text-anchor="middle" textLength="9.8" lengthAdjust="spacingAndGlyphs" fill="#3a3a3a">0.4</text>
<text x="253.32" y="229.8" font-size="6.6" text-anchor="middle" textLength="9.8" lengthAdjust="spacingAndGlyphs" fill="#3a3a3a">0.6</text>
<text x="276.76" y="229.8" font-size="6.6" text-anchor="middle" textLength="9.8" lengthAdjust="spacingAndGlyphs" fill="#3a3a3a">0.8</text>
<text x="300.2" y="229.8" font-size="6.6" text-anchor="middle" textLength="9.8" lengthAdjust="spacingAndGlyphs" fill="#3a3a3a">1.0</text>
<text x="241.6" y="238" font-size="7.4" text-anchor="middle" textLength="67.8" lengthAdjust="spacingAndGlyphs" fill="#3a3a3a">False Positive Rate</text>
<text transform="translate(168,176.1) rotate(-90)" font-size="7.4" text-anchor="middle" textLength="65.6" lengthAdjust="spacingAndGlyphs" fill="#3a3a3a">True Positive Rate</text>
<g fill="none" stroke-linejoin="round" stroke-linecap="butt">
<path d="M183,221.4 L253.32,221.4 L300.2,135.5" stroke="#50b131" stroke-width="0.9"/>
<path d="M183,221.4 L300.2,135.5" stroke="#34af84" stroke-width="0.9"/>
<path d="M183,211.09 L300.2,135.5" stroke="#e68332" stroke-width="0.9"/>
<path d="M215.82,221.4 L215.82,217.1 L218.16,217.1 L218.16,212.81 L227.54,212.81 L227.54,207.66 L239.26,207.66 L239.26,202.5 L247.46,202.5 L247.46,193.91 L259.18,193.91 L259.18,185.32 L265.04,185.32 L265.04,175.87 L270.9,175.87 L270.9,167.71 L274.42,167.71 L274.42,167.71 L299.97,167.71 L299.97,135.5" stroke="#e866f4" stroke-width="0.9"/>
<path d="M208.78,221.4 L208.78,214.53 L211.71,214.53 L211.71,210.23 L218.16,210.23 L218.16,204.22 L225.19,204.22 L225.19,199.92 L231.05,199.92 L231.05,193.91 L236.91,193.91 L236.91,187.04 L241.6,187.04 L241.6,181.03 L245.12,181.03 L245.12,172.44 L248.63,172.44 L248.63,164.71 L255.66,164.71 L255.66,157.83 L261.52,157.83 L261.52,152.68 L267.38,152.68 L267.38,146.67 L272.07,146.67 L272.07,141.51 L275.59,141.51 L275.59,135.5 L276.76,135.5 L276.76,135.5 L300.2,135.5" stroke="#f668c2" stroke-width="0.9"/>
<path d="M201.75,221.4 L201.75,210.23 L204.1,210.23 L204.1,204.22 L212.3,204.22 L212.3,198.21 L219.33,198.21 L219.33,193.05 L225.19,193.05 L225.19,187.04 L231.05,187.04 L231.05,180.17 L238.08,180.17 L238.08,163.85 L246.29,163.85 L246.29,157.4 L253.32,157.4 L253.32,150.96 L258.01,150.96 L258.01,144.09 L262.7,144.09 L262.7,138.94 L265.04,138.94 L265.04,135.5 L268.56,135.5 L268.56,135.5 L300.2,135.5" stroke="#bb9832" stroke-width="0.9"/>
<path d="M183,221.4 L183,217.1 L185.34,217.1 L185.34,212.81 L192.38,212.81 L192.38,207.66 L199.99,207.66 L199.99,202.5 L206.44,202.5 L206.44,195.63 L212.3,195.63 L212.3,188.76 L218.16,188.76 L218.16,180.17 L225.19,180.17 L225.19,168.14 L233.4,168.14 L233.4,157.4 L242.19,157.4 L242.19,150.96 L250.98,150.96 L250.98,142.37 L255.66,142.37 L255.66,137.22 L258.01,137.22 L258.01,135.5 L259.18,135.5 L259.18,135.5 L300.2,135.5" stroke="#36ada4" stroke-width="0.9"/>
<path d="M183,221.4 L183,217.1 L188.86,217.1 L188.86,204.22 L194.72,204.22 L194.72,195.63 L197.88,195.63 L197.88,187.04 L202.92,187.04 L202.92,180.17 L206.44,180.17 L206.44,169.86 L208.78,169.86 L208.78,157.4 L211.13,157.4 L211.13,148.38 L212.89,148.38 L212.89,142.37 L214.06,142.37 L214.06,135.5 L216.99,135.5 L216.99,135.5 L300.2,135.5" stroke="#f77189" stroke-width="0.9"/>
<path d="M183,221.4 L183,212.81 L184.17,212.81 L184.17,204.22 L186.52,204.22 L186.52,195.63 L191.79,195.63 L191.79,187.04 L194.72,187.04 L194.72,181.03 L197.65,181.03 L197.65,174.15 L200.58,174.15 L200.58,169 L203.51,169 L203.51,164.71 L206.44,164.71 L206.44,161.27 L208.78,161.27 L208.78,154.4 L211.13,154.4 L211.13,149.24 L212.89,149.24 L212.89,144.09 L214.64,144.09 L214.64,138.08 L216.4,138.08 L216.4,135.5 L218.16,135.5 L218.16,135.5 L300.2,135.5" stroke="#38aabf" stroke-width="0.9"/>
<path d="M183,221.4 L183,204.22 L184.17,204.22 L184.17,191.33 L186.52,191.33 L186.52,178.45 L188.86,178.45 L188.86,161.27 L192.38,161.27 L192.38,147.53 L194.72,147.53 L194.72,141.51 L197.06,141.51 L197.06,135.5 L199.99,135.5 L199.99,135.5 L300.2,135.5" stroke="#3ba3ec" stroke-width="0.9"/>
<path d="M183,221.4 L183,199.92 L185.34,199.92 L185.34,187.04 L187.69,187.04 L187.69,175.87 L190.97,175.87 L190.97,161.27 L192.38,161.27 L192.38,146.67 L194.72,146.67 L194.72,139.79 L199.99,139.79 L199.99,135.5 L211.71,135.5 L211.71,135.5 L300.2,135.5" stroke="#a48cf4" stroke-width="0.9"/>
<path d="M183,221.4 L185.34,217.1 L187.1,187.04 L188.51,141.51 L190.03,136.79 L191.79,135.5 L300.2,135.5" stroke="#1a1a1a" stroke-width="1.1"/>
</g>
<rect x="301.6" y="130.5" width="15" height="7.67" fill="#e68332"/>
<text x="309.1" y="136.11" font-size="5.2" text-anchor="middle" textLength="13" lengthAdjust="spacingAndGlyphs" fill="#1a1a1a">8e-01</text>
<rect x="301.6" y="138.12" width="15" height="7.67" fill="#f77189"/>
<text x="309.1" y="143.73" font-size="5.2" text-anchor="middle" textLength="13" lengthAdjust="spacingAndGlyphs" fill="#1a1a1a">2e-01</text>
<rect x="301.6" y="145.73" width="15" height="7.67" fill="#a48cf4"/>
<text x="309.1" y="151.34" font-size="5.2" text-anchor="middle" textLength="13" lengthAdjust="spacingAndGlyphs" fill="#1a1a1a">8e-02</text>
<rect x="301.6" y="153.35" width="15" height="7.67" fill="#3ba3ec"/>
<text x="309.1" y="158.96" font-size="5.2" text-anchor="middle" textLength="13" lengthAdjust="spacingAndGlyphs" fill="#1a1a1a">2e-02</text>
<rect x="301.6" y="160.97" width="15" height="7.67" fill="#38aabf"/>
<text x="309.1" y="166.58" font-size="5.2" text-anchor="middle" textLength="13" lengthAdjust="spacingAndGlyphs" fill="#1a1a1a">8e-03</text>
<rect x="301.6" y="168.58" width="15" height="7.67" fill="#36ada4"/>
<text x="309.1" y="174.19" font-size="5.2" text-anchor="middle" textLength="13" lengthAdjust="spacingAndGlyphs" fill="#1a1a1a">2e-03</text>
<rect x="301.6" y="176.2" width="15" height="7.67" fill="#bb9832"/>
<text x="309.1" y="181.81" font-size="5.2" text-anchor="middle" textLength="13" lengthAdjust="spacingAndGlyphs" fill="#1a1a1a">8e-04</text>
<rect x="301.6" y="183.82" width="15" height="7.67" fill="#f668c2"/>
<text x="309.1" y="189.43" font-size="5.2" text-anchor="middle" textLength="13" lengthAdjust="spacingAndGlyphs" fill="#1a1a1a">2e-04</text>
<rect x="301.6" y="191.43" width="15" height="7.67" fill="#e866f4"/>
<text x="309.1" y="197.04" font-size="5.2" text-anchor="middle" textLength="13" lengthAdjust="spacingAndGlyphs" fill="#1a1a1a">8e-05</text>
<rect x="301.6" y="199.05" width="15" height="7.67" fill="#50b131"/>
<text x="309.1" y="204.66" font-size="5.2" text-anchor="middle" textLength="13" lengthAdjust="spacingAndGlyphs" fill="#1a1a1a">2e-05</text>
<rect x="301.6" y="206.67" width="15" height="7.67" fill="#97a431"/>
<text x="309.1" y="212.27" font-size="5.2" text-anchor="middle" textLength="13" lengthAdjust="spacingAndGlyphs" fill="#1a1a1a">8e-06</text>
<rect x="301.6" y="214.28" width="15" height="7.67" fill="#34af84"/>
<text x="309.1" y="219.89" font-size="5.2" text-anchor="middle" textLength="13" lengthAdjust="spacingAndGlyphs" fill="#1a1a1a">8e-07</text>
<rect x="260.5" y="210.9" width="37.8" height="8.9" rx="0.6" fill="#ebebf0" stroke="#e0e0e6" stroke-width="0.5"/>
<line x1="261.7" y1="215.3" x2="271.8" y2="215.3" stroke="#3a3a3a" stroke-width="1.1"/>
<text x="275.4" y="217.3" font-size="5.6" font-style="italic" textLength="21" lengthAdjust="spacingAndGlyphs" fill="#333">η = Auto</text>
<text x="403.2" y="128.9" font-size="8" text-anchor="middle" textLength="14.66" lengthAdjust="spacingAndGlyphs" fill="#262626">wilt</text>
<text x="341.5" y="224" font-size="6.6" text-anchor="end" textLength="9.8" lengthAdjust="spacingAndGlyphs" fill="#3a3a3a">0.0</text>
<text x="341.5" y="206.82" font-size="6.6" text-anchor="end" textLength="9.8" lengthAdjust="spacingAndGlyphs" fill="#3a3a3a">0.2</text>
<text x="341.5" y="189.64" font-size="6.6" text-anchor="end" textLength="9.8" lengthAdjust="spacingAndGlyphs" fill="#3a3a3a">0.4</text>
<text x="341.5" y="172.46" font-size="6.6" text-anchor="end" textLength="9.8" lengthAdjust="spacingAndGlyphs" fill="#3a3a3a">0.6</text>
<text x="341.5" y="155.28" font-size="6.6" text-anchor="end" textLength="9.8" lengthAdjust="spacingAndGlyphs" fill="#3a3a3a">0.8</text>
<text x="341.5" y="138.1" font-size="6.6" text-anchor="end" textLength="9.8" lengthAdjust="spacingAndGlyphs" fill="#3a3a3a">1.0</text>
<text x="344.6" y="229.8" font-size="6.6" text-anchor="middle" textLength="9.8" lengthAdjust="spacingAndGlyphs" fill="#3a3a3a">0.0</text>
<text x="368.04" y="229.8" font-size="6.6" text-anchor="middle" textLength="9.8" lengthAdjust="spacingAndGlyphs" fill="#3a3a3a">0.2</text>
<text x="391.48" y="229.8" font-size="6.6" text-anchor="middle" textLength="9.8" lengthAdjust="spacingAndGlyphs" fill="#3a3a3a">0.4</text>
<text x="414.92" y="229.8" font-size="6.6" text-anchor="middle" textLength="9.8" lengthAdjust="spacingAndGlyphs" fill="#3a3a3a">0.6</text>
<text x="438.36" y="229.8" font-size="6.6" text-anchor="middle" textLength="9.8" lengthAdjust="spacingAndGlyphs" fill="#3a3a3a">0.8</text>
<text x="461.8" y="229.8" font-size="6.6" text-anchor="middle" textLength="9.8" lengthAdjust="spacingAndGlyphs" fill="#3a3a3a">1.0</text>
<text x="403.2" y="238" font-size="7.4" text-anchor="middle" textLength="67.8" lengthAdjust="spacingAndGlyphs" fill="#3a3a3a">False Positive Rate</text>
<text transform="translate(329.6,176.1) rotate(-90)" font-size="7.4" text-anchor="middle" textLength="65.6" lengthAdjust="spacingAndGlyphs" fill="#3a3a3a">True Positive Rate</text>
<g fill="none" stroke-linejoin="round" stroke-linecap="butt">
<path d="M344.6,221.4 L461.8,135.5" stroke="#b0b0b0" stroke-width="0.8" stroke-dasharray="1.5,1.2"/>
<path d="M344.6,221.4 L352.45,221.4 L355.73,175.01 L356.32,160.41 L423.12,144.95 L461.8,135.5" stroke="#34af84" stroke-width="0.9"/>
<path d="M344.6,221.4 L351.63,212.81 L362.18,196.49 L372.73,175.01 L383.28,164.71 L391.48,160.84 L458.87,160.84 L461.8,135.5" stroke="#50b131" stroke-width="0.9"/>
<path d="M344.6,221.4 L353.98,212.81 L362.18,195.63 L368.04,178.45 L376.24,166.42 L380.93,163.85 L387.96,160.41 L457.7,160.41 L461.8,135.5" stroke="#e866f4" stroke-width="0.9"/>
<path d="M344.6,221.4 L345.45,219.53 L346.3,217.6 L347.14,215.64 L347.99,213.69 L348.84,211.8 L349.69,209.99 L350.54,208.31 L351.4,206.8 L351.98,205.82 L352.51,204.91 L353.04,204.05 L353.57,203.24 L354.13,202.47 L354.76,201.73 L355.48,201.03 L356.32,200.35 L357.67,199.53 L359.23,198.83 L360.95,198.23 L362.79,197.68 L364.7,197.14 L366.64,196.56 L368.55,195.9 L370.38,195.11 L372.41,194.07 L374.45,192.9 L376.5,191.63 L378.56,190.32 L380.62,188.99 L382.69,187.69 L384.74,186.45 L386.79,185.32 L388.72,184.36 L390.69,183.47 L392.66,182.63 L394.62,181.82 L396.56,181.01 L398.45,180.19 L400.28,179.35 L402.03,178.45 L403.46,177.64 L404.83,176.82 L406.15,175.98 L407.44,175.13 L408.7,174.27 L409.97,173.39 L411.26,172.49 L412.58,171.58 L414.02,170.56 L415.46,169.51 L416.91,168.44 L418.36,167.34 L419.83,166.24 L421.3,165.15 L422.79,164.06 L424.3,162.99 L425.88,161.92 L427.49,160.9 L429.12,159.9 L430.76,158.89 L432.4,157.86 L434.02,156.78 L435.62,155.63 L437.19,154.4 L438.85,152.88 L440.47,151.19 L442.06,149.39 L443.64,147.54 L445.21,145.73 L446.8,144 L448.42,142.43 L450.08,141.08 L451.5,140.14 L452.95,139.33 L454.41,138.62 L455.89,137.98 L457.37,137.37 L458.85,136.78 L460.33,136.16 L461.8,135.5" stroke="#e68332" stroke-width="0.9"/>
<path d="M350.46,221.4 L352.67,218.73 L354.9,215.99 L357.13,213.23 L359.36,210.49 L361.58,207.79 L363.77,205.18 L365.93,202.69 L368.04,200.35 L369.71,198.6 L371.35,196.96 L372.97,195.4 L374.57,193.89 L376.16,192.41 L377.74,190.94 L379.33,189.44 L380.93,187.9 L382.56,186.29 L384.19,184.65 L385.82,182.99 L387.45,181.33 L389.07,179.69 L390.67,178.08 L392.26,176.52 L393.82,175.01 L395.15,173.75 L396.43,172.54 L397.67,171.37 L398.91,170.22 L400.18,169.08 L401.49,167.93 L402.88,166.76 L404.37,165.56 L406.41,164.01 L408.58,162.42 L410.86,160.82 L413.22,159.21 L415.65,157.58 L418.13,155.95 L420.62,154.31 L423.12,152.68 L425.94,150.79 L428.86,148.76 L431.85,146.67 L434.88,144.61 L437.9,142.64 L440.88,140.84 L443.78,139.29 L446.56,138.08 L448.56,137.41 L450.51,136.93 L452.42,136.59 L454.3,136.34 L456.17,136.15 L458.04,135.98 L459.91,135.77 L461.8,135.5" stroke="#a48cf4" stroke-width="0.9"/>
<path d="M350.46,221.4 L351.65,220.88 L352.88,220.38 L354.11,219.9 L355.34,219.41 L356.54,218.9 L357.71,218.35 L358.81,217.76 L359.84,217.1 L360.68,216.47 L361.47,215.83 L362.2,215.15 L362.9,214.44 L363.58,213.69 L364.27,212.89 L364.97,212.02 L365.7,211.09 L366.77,209.59 L367.86,207.88 L368.96,206.03 L370.07,204.08 L371.19,202.1 L372.31,200.13 L373.45,198.25 L374.6,196.49 L375.68,195 L376.79,193.56 L377.92,192.16 L379.05,190.79 L380.17,189.43 L381.26,188.07 L382.3,186.71 L383.28,185.32 L384.11,184.05 L384.92,182.8 L385.69,181.55 L386.43,180.3 L387.14,179.03 L387.83,177.73 L388.49,176.4 L389.14,175.01 L389.74,173.33 L390.21,171.47 L390.59,169.52 L390.97,167.55 L391.42,165.66 L391.99,163.93 L392.77,162.43 L393.82,161.27 L395.22,160.48 L396.88,160.06 L398.74,159.89 L400.75,159.89 L402.84,159.95 L404.96,159.99 L407.06,159.88 L409.06,159.55 L411.2,158.92 L413.33,158.13 L415.46,157.23 L417.61,156.26 L419.79,155.28 L422.01,154.32 L424.29,153.44 L426.64,152.68 L429.46,152.05 L432.47,151.62 L435.61,151.31 L438.77,151.03 L441.89,150.69 L444.87,150.19 L447.63,149.45 L450.08,148.38 L451.91,147.18 L453.55,145.76 L455.04,144.18 L456.42,142.47 L457.74,140.71 L459.05,138.92 L460.39,137.17 L461.8,135.5" stroke="#bb9832" stroke-width="0.9"/>
<path d="M350.46,221.4 L352.18,218.76 L353.92,216.1 L355.68,213.44 L357.43,210.78 L359.16,208.14 L360.85,205.51 L362.49,202.91 L364.06,200.35 L365.37,198.07 L366.61,195.78 L367.78,193.49 L368.94,191.23 L370.1,189.01 L371.29,186.85 L372.55,184.75 L373.9,182.74 L375.21,180.94 L376.55,179.18 L377.91,177.46 L379.31,175.8 L380.77,174.2 L382.3,172.68 L383.91,171.23 L385.62,169.86 L387.54,168.53 L389.57,167.32 L391.69,166.22 L393.89,165.18 L396.16,164.19 L398.47,163.23 L400.82,162.26 L403.2,161.27 L405.95,160.15 L408.8,159.08 L411.72,158.03 L414.7,157 L417.7,155.96 L420.71,154.91 L423.7,153.82 L426.64,152.68 L429.64,151.46 L432.72,150.19 L435.83,148.89 L438.91,147.56 L441.93,146.23 L444.83,144.92 L447.56,143.62 L450.08,142.37 L451.76,141.49 L453.33,140.62 L454.81,139.76 L456.22,138.9 L457.6,138.05 L458.98,137.21 L460.37,136.36 L461.8,135.5" stroke="#f668c2" stroke-width="0.9"/>
<path d="M350.46,221.4 L351.48,219.8 L352.51,218.23 L353.53,216.66 L354.56,215.09 L355.58,213.5 L356.61,211.89 L357.63,210.23 L358.66,208.51 L359.81,206.47 L360.93,204.33 L362.04,202.12 L363.15,199.87 L364.29,197.63 L365.47,195.44 L366.72,193.33 L368.04,191.33 L369.34,189.54 L370.66,187.78 L372.02,186.06 L373.43,184.4 L374.9,182.8 L376.43,181.27 L378.05,179.82 L379.76,178.45 L381.7,177.13 L383.78,175.94 L385.96,174.85 L388.22,173.83 L390.51,172.85 L392.82,171.89 L395.11,170.9 L397.34,169.86 L399.52,168.8 L401.68,167.77 L403.83,166.74 L405.99,165.71 L408.16,164.66 L410.37,163.58 L412.61,162.45 L414.92,161.27 L417.7,159.81 L420.56,158.26 L423.48,156.66 L426.45,155.02 L429.43,153.35 L432.43,151.68 L435.41,150.02 L438.36,148.38 L441.29,146.77 L444.22,145.16 L447.15,143.55 L450.08,141.94 L453.01,140.33 L455.94,138.72 L458.87,137.11 L461.8,135.5" stroke="#f77189" stroke-width="0.9"/>
<path d="M350.46,221.4 L351.47,219.26 L352.46,217.14 L353.45,215.03 L354.44,212.91 L355.44,210.78 L356.47,208.63 L357.54,206.45 L358.66,204.22 L360,201.58 L361.4,198.82 L362.85,195.97 L364.33,193.12 L365.84,190.31 L367.36,187.61 L368.88,185.07 L370.38,182.75 L371.51,181.11 L372.59,179.57 L373.66,178.11 L374.74,176.73 L375.86,175.39 L377.06,174.1 L378.35,172.83 L379.76,171.58 L381.61,170.11 L383.64,168.66 L385.79,167.26 L388.05,165.92 L390.37,164.63 L392.71,163.42 L395.05,162.3 L397.34,161.27 L399.48,160.43 L401.62,159.74 L403.78,159.15 L405.95,158.62 L408.14,158.09 L410.36,157.53 L412.62,156.89 L414.92,156.12 L417.71,155.05 L420.58,153.86 L423.5,152.58 L426.46,151.25 L429.44,149.87 L432.43,148.49 L435.41,147.13 L438.36,145.81 L441.29,144.52 L444.22,143.23 L447.15,141.94 L450.08,140.65 L453.01,139.37 L455.94,138.08 L458.87,136.79 L461.8,135.5" stroke="#3ba3ec" stroke-width="0.9"/>
<path d="M348.12,221.4 L349.13,218.71 L350.14,216 L351.15,213.3 L352.16,210.59 L353.17,207.89 L354.2,205.21 L355.25,202.55 L356.32,199.93 L357.41,197.39 L358.56,194.88 L359.74,192.37 L360.92,189.89 L362.09,187.42 L363.21,184.98 L364.26,182.56 L365.23,180.17 L365.96,177.98 L366.58,175.69 L367.13,173.38 L367.65,171.1 L368.19,168.94 L368.8,166.96 L369.51,165.24 L370.38,163.85 L371.01,163.16 L371.67,162.6 L372.36,162.14 L373.08,161.75 L373.83,161.41 L374.61,161.09 L375.41,160.77 L376.24,160.41 L377.28,159.96 L378.34,159.53 L379.45,159.11 L380.59,158.71 L381.78,158.33 L383.01,157.97 L384.29,157.63 L385.62,157.32 L387.47,156.97 L389.47,156.7 L391.59,156.47 L393.76,156.28 L395.94,156.08 L398.08,155.86 L400.13,155.6 L402.03,155.26 L403.47,154.91 L404.84,154.51 L406.16,154.07 L407.45,153.62 L408.72,153.18 L409.98,152.76 L411.27,152.39 L412.58,152.08 L413.86,151.87 L415.13,151.75 L416.38,151.68 L417.64,151.64 L418.93,151.58 L420.26,151.47 L421.65,151.27 L423.12,150.96 L425.45,150.28 L427.97,149.37 L430.63,148.3 L433.37,147.12 L436.15,145.88 L438.92,144.64 L441.63,143.45 L444.22,142.37 L446.49,141.47 L448.72,140.59 L450.93,139.73 L453.11,138.88 L455.28,138.04 L457.44,137.2 L459.61,136.35 L461.8,135.5" stroke="#38aabf" stroke-width="0.9"/>
<path d="M350.46,221.4 L351.17,219.26 L351.83,217.13 L352.49,215.01 L353.15,212.89 L353.84,210.75 L354.58,208.6 L355.4,206.43 L356.32,204.22 L357.51,201.55 L358.8,198.74 L360.18,195.87 L361.64,192.99 L363.17,190.17 L364.76,187.48 L366.38,184.98 L368.04,182.74 L369.38,181.14 L370.73,179.67 L372.11,178.3 L373.52,177.01 L374.99,175.8 L376.51,174.65 L378.09,173.53 L379.76,172.44 L381.73,171.28 L383.82,170.23 L386,169.25 L388.25,168.33 L390.54,167.43 L392.83,166.55 L395.11,165.65 L397.34,164.71 L399.5,163.74 L401.62,162.77 L403.72,161.8 L405.82,160.83 L407.97,159.86 L410.18,158.89 L412.49,157.93 L414.92,156.97 L418.27,155.81 L421.9,154.71 L425.72,153.64 L429.64,152.57 L433.54,151.45 L437.34,150.26 L440.93,148.97 L444.22,147.53 L446.71,146.2 L449.05,144.79 L451.26,143.29 L453.4,141.75 L455.48,140.18 L457.55,138.6 L459.64,137.03 L461.8,135.5" stroke="#36ada4" stroke-width="0.9"/>
<path d="M350.46,221.4 L351.93,219.25 L353.39,217.1 L354.86,214.96 L356.32,212.81 L357.78,210.66 L359.25,208.52 L360.71,206.37 L362.18,204.22 L363.64,202.05 L365.08,199.85 L366.53,197.64 L367.97,195.43 L369.42,193.25 L370.89,191.11 L372.38,189.03 L373.9,187.04 L375.29,185.27 L376.65,183.52 L378.02,181.81 L379.41,180.14 L380.84,178.53 L382.34,176.99 L383.92,175.52 L385.62,174.15 L387.54,172.83 L389.57,171.62 L391.69,170.51 L393.89,169.48 L396.16,168.49 L398.47,167.53 L400.82,166.56 L403.2,165.56 L405.95,164.46 L408.81,163.42 L411.75,162.42 L414.73,161.43 L417.74,160.42 L420.75,159.36 L423.72,158.22 L426.64,156.97 L429.67,155.55 L432.76,154.01 L435.87,152.38 L438.95,150.7 L441.96,149 L444.85,147.31 L447.57,145.66 L450.08,144.09 L451.77,142.98 L453.34,141.89 L454.82,140.81 L456.23,139.75 L457.61,138.69 L458.98,137.63 L460.37,136.57 L461.8,135.5" stroke="#97a431" stroke-width="0.9"/>
<path d="M344.6,221.4 L345.04,220.54 L345.48,219.69 L345.93,218.84 L346.37,217.99 L346.81,217.14 L347.25,216.28 L347.68,215.41 L348.12,214.53 L348.56,213.59 L348.99,212.64 L349.41,211.68 L349.83,210.71 L350.26,209.74 L350.7,208.76 L351.15,207.78 L351.63,206.8 L352.16,205.73 L352.68,204.66 L353.22,203.57 L353.77,202.48 L354.35,201.39 L354.96,200.32 L355.62,199.25 L356.32,198.21 L357.15,197.09 L358.03,195.97 L358.97,194.86 L359.94,193.76 L360.95,192.69 L361.98,191.63 L363.01,190.61 L364.06,189.62 L365.08,188.68 L366.11,187.77 L367.17,186.88 L368.24,186.02 L369.33,185.17 L370.44,184.35 L371.57,183.54 L372.73,182.75 L373.95,181.95 L375.19,181.19 L376.44,180.47 L377.72,179.76 L379.03,179.04 L380.39,178.31 L381.8,177.55 L383.28,176.73 L385.4,175.56 L387.72,174.31 L390.16,172.99 L392.67,171.65 L395.17,170.29 L397.61,168.96 L399.92,167.66 L402.03,166.42 L403.5,165.51 L404.89,164.61 L406.21,163.71 L407.49,162.83 L408.74,161.98 L409.99,161.14 L411.26,160.33 L412.58,159.55 L413.89,158.83 L415.24,158.15 L416.6,157.49 L417.97,156.85 L419.32,156.23 L420.64,155.62 L421.91,155.01 L423.12,154.4 L424.06,153.91 L424.92,153.45 L425.75,153.01 L426.56,152.57 L427.38,152.11 L428.24,151.63 L429.15,151.11 L430.16,150.53 L431.88,149.49 L433.78,148.29 L435.81,146.98 L437.93,145.61 L440.1,144.24 L442.29,142.92 L444.46,141.71 L446.56,140.65 L448.46,139.83 L450.36,139.1 L452.26,138.45 L454.17,137.84 L456.08,137.27 L457.99,136.7 L459.89,136.12 L461.8,135.5" stroke="#1a1a1a" stroke-width="1.1"/>
</g>
<rect x="463.2" y="130.5" width="15" height="7.67" fill="#e68332"/>
<text x="470.7" y="136.11" font-size="5.2" text-anchor="middle" textLength="13" lengthAdjust="spacingAndGlyphs" fill="#1a1a1a">8e-01</text>
<rect x="463.2" y="138.12" width="15" height="7.67" fill="#f77189"/>
<text x="470.7" y="143.73" font-size="5.2" text-anchor="middle" textLength="13" lengthAdjust="spacingAndGlyphs" fill="#1a1a1a">2e-01</text>
<rect x="463.2" y="145.73" width="15" height="7.67" fill="#a48cf4"/>
<text x="470.7" y="151.34" font-size="5.2" text-anchor="middle" textLength="13" lengthAdjust="spacingAndGlyphs" fill="#1a1a1a">8e-02</text>
<rect x="463.2" y="153.35" width="15" height="7.67" fill="#3ba3ec"/>
<text x="470.7" y="158.96" font-size="5.2" text-anchor="middle" textLength="13" lengthAdjust="spacingAndGlyphs" fill="#1a1a1a">2e-02</text>
<rect x="463.2" y="160.97" width="15" height="7.67" fill="#38aabf"/>
<text x="470.7" y="166.58" font-size="5.2" text-anchor="middle" textLength="13" lengthAdjust="spacingAndGlyphs" fill="#1a1a1a">8e-03</text>
<rect x="463.2" y="168.58" width="15" height="7.67" fill="#36ada4"/>
<text x="470.7" y="174.19" font-size="5.2" text-anchor="middle" textLength="13" lengthAdjust="spacingAndGlyphs" fill="#1a1a1a">2e-03</text>
<rect x="463.2" y="176.2" width="15" height="7.67" fill="#bb9832"/>
<text x="470.7" y="181.81" font-size="5.2" text-anchor="middle" textLength="13" lengthAdjust="spacingAndGlyphs" fill="#1a1a1a">8e-04</text>
<rect x="463.2" y="183.82" width="15" height="7.67" fill="#f668c2"/>
<text x="470.7" y="189.43" font-size="5.2" text-anchor="middle" textLength="13" lengthAdjust="spacingAndGlyphs" fill="#1a1a1a">2e-04</text>
<rect x="463.2" y="191.43" width="15" height="7.67" fill="#e866f4"/>
<text x="470.7" y="197.04" font-size="5.2" text-anchor="middle" textLength="13" lengthAdjust="spacingAndGlyphs" fill="#1a1a1a">8e-05</text>
<rect x="463.2" y="199.05" width="15" height="7.67" fill="#50b131"/>
<text x="470.7" y="204.66" font-size="5.2" text-anchor="middle" textLength="13" lengthAdjust="spacingAndGlyphs" fill="#1a1a1a">2e-05</text>
<rect x="463.2" y="206.67" width="15" height="7.67" fill="#97a431"/>
<text x="470.7" y="212.27" font-size="5.2" text-anchor="middle" textLength="13" lengthAdjust="spacingAndGlyphs" fill="#1a1a1a">8e-06</text>
<rect x="463.2" y="214.28" width="15" height="7.67" fill="#34af84"/>
<text x="470.7" y="219.89" font-size="5.2" text-anchor="middle" textLength="13" lengthAdjust="spacingAndGlyphs" fill="#1a1a1a">8e-07</text>
<rect x="422.1" y="210.9" width="37.8" height="8.9" rx="0.6" fill="#ebebf0" stroke="#e0e0e6" stroke-width="0.5"/>
<line x1="423.3" y1="215.3" x2="433.4" y2="215.3" stroke="#3a3a3a" stroke-width="1.1"/>
<text x="437" y="217.3" font-size="5.6" font-style="italic" textLength="21" lengthAdjust="spacingAndGlyphs" fill="#333">η = Auto</text>
<text x="564.8" y="128.9" font-size="8" text-anchor="middle" textLength="21.31" lengthAdjust="spacingAndGlyphs" fill="#262626">glass</text>
<text x="503.1" y="224" font-size="6.6" text-anchor="end" textLength="9.8" lengthAdjust="spacingAndGlyphs" fill="#3a3a3a">0.0</text>
<text x="503.1" y="206.82" font-size="6.6" text-anchor="end" textLength="9.8" lengthAdjust="spacingAndGlyphs" fill="#3a3a3a">0.2</text>
<text x="503.1" y="189.64" font-size="6.6" text-anchor="end" textLength="9.8" lengthAdjust="spacingAndGlyphs" fill="#3a3a3a">0.4</text>
<text x="503.1" y="172.46" font-size="6.6" text-anchor="end" textLength="9.8" lengthAdjust="spacingAndGlyphs" fill="#3a3a3a">0.6</text>
<text x="503.1" y="155.28" font-size="6.6" text-anchor="end" textLength="9.8" lengthAdjust="spacingAndGlyphs" fill="#3a3a3a">0.8</text>
<text x="503.1" y="138.1" font-size="6.6" text-anchor="end" textLength="9.8" lengthAdjust="spacingAndGlyphs" fill="#3a3a3a">1.0</text>
<text x="506.2" y="229.8" font-size="6.6" text-anchor="middle" textLength="9.8" lengthAdjust="spacingAndGlyphs" fill="#3a3a3a">0.0</text>
<text x="529.64" y="229.8" font-size="6.6" text-anchor="middle" textLength="9.8" lengthAdjust="spacingAndGlyphs" fill="#3a3a3a">0.2</text>
<text x="553.08" y="229.8" font-size="6.6" text-anchor="middle" textLength="9.8" lengthAdjust="spacingAndGlyphs" fill="#3a3a3a">0.4</text>
<text x="576.52" y="229.8" font-size="6.6" text-anchor="middle" textLength="9.8" lengthAdjust="spacingAndGlyphs" fill="#3a3a3a">0.6</text>
<text x="599.96" y="229.8" font-size="6.6" text-anchor="middle" textLength="9.8" lengthAdjust="spacingAndGlyphs" fill="#3a3a3a">0.8</text>
<text x="623.4" y="229.8" font-size="6.6" text-anchor="middle" textLength="9.8" lengthAdjust="spacingAndGlyphs" fill="#3a3a3a">1.0</text>
<text x="564.8" y="238" font-size="7.4" text-anchor="middle" textLength="67.8" lengthAdjust="spacingAndGlyphs" fill="#3a3a3a">False Positive Rate</text>
<text transform="translate(491.2,176.1) rotate(-90)" font-size="7.4" text-anchor="middle" textLength="65.6" lengthAdjust="spacingAndGlyphs" fill="#3a3a3a">True Positive Rate</text>
<g fill="none" stroke-linejoin="round" stroke-linecap="butt">
<path d="M506.2,221.4 L569.49,221.4 L623.4,135.5" stroke="#e68332" stroke-width="0.9"/>
<path d="M506.2,221.4 L623.4,135.5" stroke="#34af84" stroke-width="0.9"/>
<path d="M506.2,221.4 L521.44,221.4 L521.44,208.51 L526.12,208.51 L526.12,195.63 L529.64,195.63 L529.64,178.45 L533.16,178.45 L533.16,161.27 L536.67,161.27 L536.67,148.38 L539.02,148.38 L539.02,135.5 L623.4,135.5" stroke="#bb9832" stroke-width="0.9"/>
<path d="M506.2,221.4 L522.61,221.4 L522.61,211.09 L527.3,211.09 L527.3,193.91 L531.98,193.91 L531.98,178.45 L535.5,178.45 L535.5,164.71 L537.84,164.71 L537.84,150.96 L541.36,150.96 L541.36,135.5 L623.4,135.5" stroke="#36ada4" stroke-width="0.9"/>
<path d="M506.2,221.4 L523.78,221.4 L523.78,214.53 L528.47,214.53 L528.47,197.35 L533.16,197.35 L533.16,181.89 L536.09,181.89 L536.09,168.14 L539.02,168.14 L539.02,152.68 L541.95,152.68 L541.95,135.5 L623.4,135.5" stroke="#38aabf" stroke-width="0.9"/>
<path d="M506.2,221.4 L520.26,221.4 L520.26,212.81 L533.74,212.81 L533.74,183.6 L535.5,183.6 L535.5,168.14 L536.67,168.14 L536.67,154.4 L540.19,154.4 L540.19,144.09 L542.53,144.09 L542.53,135.5 L623.4,135.5" stroke="#a48cf4" stroke-width="0.9"/>
<path d="M506.2,221.4 L523.78,221.4 L523.78,212.81 L529.64,212.81 L529.64,195.63 L533.16,195.63 L533.16,183.6 L536.67,183.6 L536.67,166.42 L538.66,166.42 L538.66,152.68 L541.59,152.68 L541.59,135.5 L623.4,135.5" stroke="#3ba3ec" stroke-width="0.9"/>
<path d="M506.2,221.4 L520.26,221.4 L520.26,212.81 L525.54,212.81 L525.54,195.63 L529.64,195.63 L529.64,183.6 L531.98,183.6 L531.98,168.14 L534.68,168.14 L534.68,153.54 L539.6,153.54 L539.6,135.5 L623.4,135.5" stroke="#f668c2" stroke-width="0.9"/>
<path d="M506.2,221.4 L520.26,221.4 L520.26,208.09 L528,208.09 L528,195.63 L530.81,195.63 L530.81,183.6 L534.33,183.6 L534.33,175.01 L540.77,175.01 L540.77,153.54 L544.88,153.54 L544.88,145.81 L547.81,145.81 L547.81,135.5 L623.4,135.5" stroke="#e866f4" stroke-width="0.9"/>
<path d="M506.2,221.4 L506.2,221.4 L513.23,221.4 L513.23,205.94 L517.33,205.94 L517.33,154.4 L519.8,154.4 L519.8,144.95 L522.26,144.95 L522.26,135.5 L526.12,135.5 L526.12,135.5 L623.4,135.5" stroke="#f77189" stroke-width="0.9"/>
<path d="M506.2,221.4 L506.2,221.4 L514.64,221.4 L514.64,192.19 L521.44,192.19 L521.44,164.71 L526.12,164.71 L526.12,135.5 L623.4,135.5" stroke="#1a1a1a" stroke-width="1.1"/>
</g>
<rect x="624.8" y="130.5" width="15" height="7.67" fill="#e68332"/>
<text x="632.3" y="136.11" font-size="5.2" text-anchor="middle" textLength="13" lengthAdjust="spacingAndGlyphs" fill="#1a1a1a">8e-01</text>
<rect x="624.8" y="138.12" width="15" height="7.67" fill="#f77189"/>
<text x="632.3" y="143.73" font-size="5.2" text-anchor="middle" textLength="13" lengthAdjust="spacingAndGlyphs" fill="#1a1a1a">2e-01</text>
<rect x="624.8" y="145.73" width="15" height="7.67" fill="#a48cf4"/>
<text x="632.3" y="151.34" font-size="5.2" text-anchor="middle" textLength="13" lengthAdjust="spacingAndGlyphs" fill="#1a1a1a">8e-02</text>
<rect x="624.8" y="153.35" width="15" height="7.67" fill="#3ba3ec"/>
<text x="632.3" y="158.96" font-size="5.2" text-anchor="middle" textLength="13" lengthAdjust="spacingAndGlyphs" fill="#1a1a1a">2e-02</text>
<rect x="624.8" y="160.97" width="15" height="7.67" fill="#38aabf"/>
<text x="632.3" y="166.58" font-size="5.2" text-anchor="middle" textLength="13" lengthAdjust="spacingAndGlyphs" fill="#1a1a1a">8e-03</text>
<rect x="624.8" y="168.58" width="15" height="7.67" fill="#36ada4"/>
<text x="632.3" y="174.19" font-size="5.2" text-anchor="middle" textLength="13" lengthAdjust="spacingAndGlyphs" fill="#1a1a1a">2e-03</text>
<rect x="624.8" y="176.2" width="15" height="7.67" fill="#bb9832"/>
<text x="632.3" y="181.81" font-size="5.2" text-anchor="middle" textLength="13" lengthAdjust="spacingAndGlyphs" fill="#1a1a1a">8e-04</text>
<rect x="624.8" y="183.82" width="15" height="7.67" fill="#f668c2"/>
<text x="632.3" y="189.43" font-size="5.2" text-anchor="middle" textLength="13" lengthAdjust="spacingAndGlyphs" fill="#1a1a1a">2e-04</text>
<rect x="624.8" y="191.43" width="15" height="7.67" fill="#e866f4"/>
<text x="632.3" y="197.04" font-size="5.2" text-anchor="middle" textLength="13" lengthAdjust="spacingAndGlyphs" fill="#1a1a1a">8e-05</text>
<rect x="624.8" y="199.05" width="15" height="7.67" fill="#50b131"/>
<text x="632.3" y="204.66" font-size="5.2" text-anchor="middle" textLength="13" lengthAdjust="spacingAndGlyphs" fill="#1a1a1a">2e-05</text>
<rect x="624.8" y="206.67" width="15" height="7.67" fill="#97a431"/>
<text x="632.3" y="212.27" font-size="5.2" text-anchor="middle" textLength="13" lengthAdjust="spacingAndGlyphs" fill="#1a1a1a">8e-06</text>
<rect x="624.8" y="214.28" width="15" height="7.67" fill="#34af84"/>
<text x="632.3" y="219.89" font-size="5.2" text-anchor="middle" textLength="13" lengthAdjust="spacingAndGlyphs" fill="#1a1a1a">8e-07</text>
<rect x="583.7" y="210.9" width="37.8" height="8.9" rx="0.6" fill="#ebebf0" stroke="#e0e0e6" stroke-width="0.5"/>
<line x1="584.9" y1="215.3" x2="595" y2="215.3" stroke="#3a3a3a" stroke-width="1.1"/>
<text x="598.6" y="217.3" font-size="5.6" font-style="italic" textLength="21" lengthAdjust="spacingAndGlyphs" fill="#333">η = Auto</text>
</svg></body></html>
